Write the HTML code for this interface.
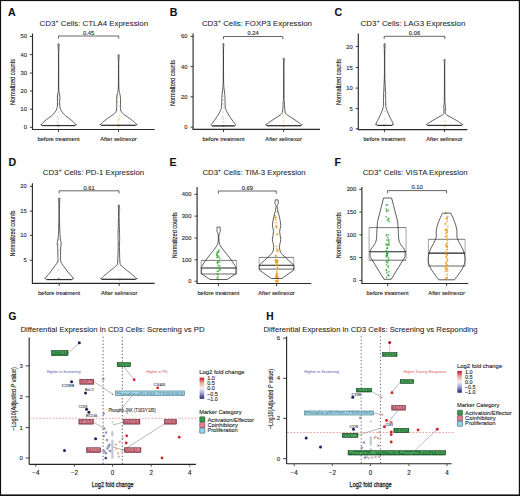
<!DOCTYPE html>
<html><head><meta charset="utf-8"><style>
html,body{margin:0;padding:0;background:#fff;}
#wrap{position:relative;width:520px;height:496px;overflow:hidden;background:#fff;}
svg{position:absolute;left:0;top:0;}
text{font-family:"Liberation Sans", sans-serif;}
</style></head><body><div id="wrap">
<svg width="520" height="496" viewBox="0 0 520 496">
<defs><linearGradient id="cb" x1="0" y1="0" x2="0" y2="1">
<stop offset="0" stop-color="#c8102e"/><stop offset="0.25" stop-color="#e6a898"/><stop offset="0.5" stop-color="#f6f4f4"/><stop offset="0.75" stop-color="#9c9cd0"/><stop offset="1" stop-color="#1f1f6e"/></linearGradient></defs>
<rect x="0" y="0" width="520" height="496" fill="#fff"/>
<text x="8.00" y="15.70" font-size="10.6" text-anchor="start" fill="#111" stroke="#111" stroke-width="0.12" font-weight="bold">A</text>
<text x="39.60" y="25.60" font-size="7.8" fill="#262626" stroke="#262626" stroke-width="0.06" textLength="108.50" lengthAdjust="spacingAndGlyphs">CD3<tspan dy="-3.0" font-size="5.62">+</tspan><tspan dy="3.0"> Cells: CTLA4 Expression</tspan></text>
<line x1="32.50" y1="33.50" x2="32.50" y2="129.80" stroke="#2a2a2a" stroke-width="1.15" />
<line x1="29.90" y1="127.30" x2="32.50" y2="127.30" stroke="#2a2a2a" stroke-width="0.9" />
<text x="26.90" y="129.39" font-size="5.8" text-anchor="end" fill="#2a2a2a" stroke="#2a2a2a" stroke-width="0.12">0</text>
<line x1="29.90" y1="109.20" x2="32.50" y2="109.20" stroke="#2a2a2a" stroke-width="0.9" />
<text x="26.90" y="111.29" font-size="5.8" text-anchor="end" fill="#2a2a2a" stroke="#2a2a2a" stroke-width="0.12">10</text>
<line x1="29.90" y1="91.00" x2="32.50" y2="91.00" stroke="#2a2a2a" stroke-width="0.9" />
<text x="26.90" y="93.09" font-size="5.8" text-anchor="end" fill="#2a2a2a" stroke="#2a2a2a" stroke-width="0.12">20</text>
<line x1="29.90" y1="73.00" x2="32.50" y2="73.00" stroke="#2a2a2a" stroke-width="0.9" />
<text x="26.90" y="75.09" font-size="5.8" text-anchor="end" fill="#2a2a2a" stroke="#2a2a2a" stroke-width="0.12">30</text>
<line x1="29.90" y1="54.60" x2="32.50" y2="54.60" stroke="#2a2a2a" stroke-width="0.9" />
<text x="26.90" y="56.69" font-size="5.8" text-anchor="end" fill="#2a2a2a" stroke="#2a2a2a" stroke-width="0.12">40</text>
<line x1="29.90" y1="36.40" x2="32.50" y2="36.40" stroke="#2a2a2a" stroke-width="0.9" />
<text x="26.90" y="38.49" font-size="5.8" text-anchor="end" fill="#2a2a2a" stroke="#2a2a2a" stroke-width="0.12">50</text>
<line x1="32.00" y1="129.50" x2="154.60" y2="129.50" stroke="#2a2a2a" stroke-width="1.15" />
<line x1="58.50" y1="129.50" x2="58.50" y2="132.10" stroke="#2a2a2a" stroke-width="0.9" />
<line x1="118.50" y1="129.50" x2="118.50" y2="132.10" stroke="#2a2a2a" stroke-width="0.9" />
<text x="15.42" y="82.00" font-size="7.0" fill="#1a1a1a" stroke="#1a1a1a" stroke-width="0.12" text-anchor="middle" textLength="46.00" lengthAdjust="spacingAndGlyphs" transform="rotate(-90 15.42 82.00)">Normalized counts</text>
<path d="M58.50,38.70 L58.50,36.00 L118.70,36.00 L118.70,38.70" fill="none" stroke="#333" stroke-width="0.75"/>
<text x="88.60" y="34.70" font-size="5.8" text-anchor="middle" fill="#2a2a2a" stroke="#2a2a2a" stroke-width="0.12">0.45</text>
<text x="58.50" y="140.80" font-size="6.0" text-anchor="middle" fill="#222" stroke="#222" stroke-width="0.12" textLength="42.00" lengthAdjust="spacingAndGlyphs">before treatment</text>
<text x="118.50" y="140.80" font-size="6.0" text-anchor="middle" fill="#222" stroke="#222" stroke-width="0.12" textLength="36.50" lengthAdjust="spacingAndGlyphs">After selinexor</text>
<circle cx="58.08" cy="125.50" r="0.90" fill="#3bab3b" opacity="0.3"/>
<circle cx="57.66" cy="125.50" r="0.90" fill="#3bab3b" opacity="0.3"/>
<circle cx="58.86" cy="125.50" r="0.90" fill="#3bab3b" opacity="0.3"/>
<circle cx="57.47" cy="125.50" r="0.90" fill="#3bab3b" opacity="0.3"/>
<circle cx="58.59" cy="125.50" r="0.90" fill="#3bab3b" opacity="0.3"/>
<circle cx="58.18" cy="125.50" r="0.90" fill="#3bab3b" opacity="0.3"/>
<circle cx="57.44" cy="117.00" r="0.90" fill="#3bab3b" opacity="0.3"/>
<circle cx="58.52" cy="112.00" r="0.90" fill="#3bab3b" opacity="0.3"/>
<circle cx="57.39" cy="104.00" r="0.90" fill="#3bab3b" opacity="0.3"/>
<circle cx="58.34" cy="99.00" r="0.90" fill="#3bab3b" opacity="0.3"/>
<circle cx="57.47" cy="96.00" r="0.90" fill="#3bab3b" opacity="0.3"/>
<circle cx="57.52" cy="122.00" r="0.90" fill="#3bab3b" opacity="0.3"/>
<circle cx="58.32" cy="119.00" r="0.90" fill="#3bab3b" opacity="0.3"/>
<circle cx="119.28" cy="125.50" r="0.90" fill="#f0a020" opacity="0.35"/>
<circle cx="117.60" cy="125.50" r="0.90" fill="#f0a020" opacity="0.35"/>
<circle cx="117.84" cy="125.50" r="0.90" fill="#f0a020" opacity="0.35"/>
<circle cx="118.81" cy="125.50" r="0.90" fill="#f0a020" opacity="0.35"/>
<circle cx="119.57" cy="125.50" r="0.90" fill="#f0a020" opacity="0.35"/>
<circle cx="118.69" cy="125.50" r="0.90" fill="#f0a020" opacity="0.35"/>
<circle cx="118.25" cy="120.00" r="0.90" fill="#f0a020" opacity="0.35"/>
<circle cx="119.64" cy="116.00" r="0.90" fill="#f0a020" opacity="0.35"/>
<circle cx="117.41" cy="110.00" r="0.90" fill="#f0a020" opacity="0.35"/>
<circle cx="119.36" cy="106.00" r="0.90" fill="#f0a020" opacity="0.35"/>
<circle cx="118.00" cy="102.00" r="0.90" fill="#f0a020" opacity="0.35"/>
<circle cx="117.65" cy="98.00" r="0.90" fill="#f0a020" opacity="0.35"/>
<circle cx="117.58" cy="95.00" r="0.90" fill="#f0a020" opacity="0.35"/>
<circle cx="118.04" cy="122.00" r="0.90" fill="#f0a020" opacity="0.35"/>
<circle cx="119.26" cy="119.00" r="0.90" fill="#f0a020" opacity="0.35"/>
<path d="M59.10,43.80 C59.11,44.00 59.18,44.13 59.15,45.00 C59.12,45.87 58.97,47.17 58.90,49.00 C58.83,50.83 58.74,49.50 58.72,56.00 C58.70,62.50 58.70,81.83 58.80,88.00 C58.90,94.17 59.13,91.50 59.30,93.00 C59.47,94.50 59.72,95.83 59.80,97.00 C59.88,98.17 59.83,98.83 59.80,100.00 C59.77,101.17 59.50,102.53 59.60,104.00 C59.70,105.47 59.93,107.40 60.40,108.80 C60.87,110.20 61.52,111.22 62.40,112.40 C63.28,113.58 64.33,114.72 65.70,115.90 C67.07,117.08 69.20,118.38 70.60,119.50 C72.00,120.62 73.22,121.72 74.10,122.60 C74.98,123.48 75.55,124.50 75.90,124.80 C76.25,125.10 76.23,124.35 76.20,124.43 C76.17,124.51 75.96,125.08 75.75,125.27 C75.53,125.47 75.04,125.55 74.90,125.60 L42.30,125.60 C42.16,125.55 41.67,125.47 41.45,125.27 C41.24,125.08 41.03,124.51 41.00,124.43 C40.97,124.35 40.95,125.10 41.30,124.80 C41.65,124.50 42.22,123.48 43.10,122.60 C43.98,121.72 45.20,120.62 46.60,119.50 C48.00,118.38 50.13,117.08 51.50,115.90 C52.87,114.72 53.92,113.58 54.80,112.40 C55.68,111.22 56.33,110.20 56.80,108.80 C57.27,107.40 57.50,105.47 57.60,104.00 C57.70,102.53 57.43,101.17 57.40,100.00 C57.37,98.83 57.32,98.17 57.40,97.00 C57.48,95.83 57.73,94.50 57.90,93.00 C58.07,91.50 58.30,94.17 58.40,88.00 C58.50,81.83 58.50,62.50 58.48,56.00 C58.46,49.50 58.37,50.83 58.30,49.00 C58.23,47.17 58.08,45.87 58.05,45.00 C58.02,44.13 58.09,44.00 58.10,43.80 Z" fill="none" stroke="#2a2a2a" stroke-width="0.75" stroke-linejoin="round"/>
<line x1="42.30" y1="125.60" x2="74.90" y2="125.60" stroke="#2a2a2a" stroke-width="1.0" />
<path d="M119.10,54.80 C119.11,55.00 119.18,55.13 119.15,56.00 C119.12,56.87 118.97,58.33 118.90,60.00 C118.83,61.67 118.72,61.33 118.72,66.00 C118.72,70.67 118.70,83.33 118.90,88.00 C119.10,92.67 119.63,92.32 119.90,94.00 C120.17,95.68 120.40,96.07 120.50,98.10 C120.60,100.13 120.42,104.05 120.50,106.20 C120.58,108.35 120.48,109.67 121.00,111.00 C121.52,112.33 122.18,112.98 123.60,114.20 C125.02,115.42 127.67,116.95 129.50,118.30 C131.33,119.65 133.42,121.25 134.60,122.30 C135.78,123.35 136.20,124.29 136.60,124.60 C137.00,124.91 137.01,124.07 137.00,124.13 C136.99,124.19 136.76,124.78 136.54,124.97 C136.33,125.17 135.84,125.25 135.70,125.30 L101.50,125.30 C101.36,125.25 100.87,125.17 100.66,124.97 C100.44,124.78 100.21,124.19 100.20,124.13 C100.19,124.07 100.20,124.91 100.60,124.60 C101.00,124.29 101.42,123.35 102.60,122.30 C103.78,121.25 105.87,119.65 107.70,118.30 C109.53,116.95 112.18,115.42 113.60,114.20 C115.02,112.98 115.68,112.33 116.20,111.00 C116.72,109.67 116.62,108.35 116.70,106.20 C116.78,104.05 116.60,100.13 116.70,98.10 C116.80,96.07 117.03,95.68 117.30,94.00 C117.57,92.32 118.10,92.67 118.30,88.00 C118.50,83.33 118.48,70.67 118.48,66.00 C118.48,61.33 118.37,61.67 118.30,60.00 C118.23,58.33 118.08,56.87 118.05,56.00 C118.02,55.13 118.09,55.00 118.10,54.80 Z" fill="none" stroke="#2a2a2a" stroke-width="0.75" stroke-linejoin="round"/>
<line x1="101.50" y1="125.30" x2="135.70" y2="125.30" stroke="#2a2a2a" stroke-width="1.0" />
<text x="169.70" y="16.00" font-size="10.6" text-anchor="start" fill="#111" stroke="#111" stroke-width="0.12" font-weight="bold">B</text>
<text x="201.90" y="25.60" font-size="7.8" fill="#262626" stroke="#262626" stroke-width="0.06" textLength="110.00" lengthAdjust="spacingAndGlyphs">CD3<tspan dy="-3.0" font-size="5.62">+</tspan><tspan dy="3.0"> Cells: FOXP3 Expression</tspan></text>
<line x1="193.10" y1="33.50" x2="193.10" y2="129.80" stroke="#2a2a2a" stroke-width="1.15" />
<line x1="190.50" y1="127.10" x2="193.10" y2="127.10" stroke="#2a2a2a" stroke-width="0.9" />
<text x="187.50" y="129.19" font-size="5.8" text-anchor="end" fill="#2a2a2a" stroke="#2a2a2a" stroke-width="0.12">0</text>
<line x1="190.50" y1="96.80" x2="193.10" y2="96.80" stroke="#2a2a2a" stroke-width="0.9" />
<text x="187.50" y="98.89" font-size="5.8" text-anchor="end" fill="#2a2a2a" stroke="#2a2a2a" stroke-width="0.12">20</text>
<line x1="190.50" y1="66.60" x2="193.10" y2="66.60" stroke="#2a2a2a" stroke-width="0.9" />
<text x="187.50" y="68.69" font-size="5.8" text-anchor="end" fill="#2a2a2a" stroke="#2a2a2a" stroke-width="0.12">40</text>
<line x1="190.50" y1="36.40" x2="193.10" y2="36.40" stroke="#2a2a2a" stroke-width="0.9" />
<text x="187.50" y="38.49" font-size="5.8" text-anchor="end" fill="#2a2a2a" stroke="#2a2a2a" stroke-width="0.12">60</text>
<line x1="192.60" y1="129.40" x2="320.00" y2="129.40" stroke="#2a2a2a" stroke-width="1.15" />
<line x1="223.50" y1="129.40" x2="223.50" y2="132.00" stroke="#2a2a2a" stroke-width="0.9" />
<line x1="283.60" y1="129.40" x2="283.60" y2="132.00" stroke="#2a2a2a" stroke-width="0.9" />
<text x="175.32" y="83.00" font-size="7.0" fill="#1a1a1a" stroke="#1a1a1a" stroke-width="0.12" text-anchor="middle" textLength="46.00" lengthAdjust="spacingAndGlyphs" transform="rotate(-90 175.32 83.00)">Normalized counts</text>
<path d="M223.50,39.20 L223.50,36.50 L282.80,36.50 L282.80,39.20" fill="none" stroke="#333" stroke-width="0.75"/>
<text x="253.15" y="35.20" font-size="5.8" text-anchor="middle" fill="#2a2a2a" stroke="#2a2a2a" stroke-width="0.12">0.24</text>
<text x="223.50" y="140.80" font-size="6.0" text-anchor="middle" fill="#222" stroke="#222" stroke-width="0.12" textLength="42.00" lengthAdjust="spacingAndGlyphs">before treatment</text>
<text x="283.60" y="140.80" font-size="6.0" text-anchor="middle" fill="#222" stroke="#222" stroke-width="0.12" textLength="36.50" lengthAdjust="spacingAndGlyphs">After selinexor</text>
<circle cx="222.83" cy="125.80" r="0.90" fill="#3bab3b" opacity="0.3"/>
<circle cx="223.80" cy="125.80" r="0.90" fill="#3bab3b" opacity="0.3"/>
<circle cx="223.93" cy="125.80" r="0.90" fill="#3bab3b" opacity="0.3"/>
<circle cx="223.29" cy="125.80" r="0.90" fill="#3bab3b" opacity="0.3"/>
<circle cx="223.71" cy="125.80" r="0.90" fill="#3bab3b" opacity="0.3"/>
<circle cx="222.55" cy="125.80" r="0.90" fill="#3bab3b" opacity="0.3"/>
<circle cx="222.54" cy="117.00" r="0.90" fill="#3bab3b" opacity="0.3"/>
<circle cx="222.89" cy="112.00" r="0.90" fill="#3bab3b" opacity="0.3"/>
<circle cx="224.03" cy="108.00" r="0.90" fill="#3bab3b" opacity="0.3"/>
<circle cx="223.43" cy="104.00" r="0.90" fill="#3bab3b" opacity="0.3"/>
<circle cx="223.15" cy="96.00" r="0.90" fill="#3bab3b" opacity="0.3"/>
<circle cx="223.81" cy="122.00" r="0.90" fill="#3bab3b" opacity="0.3"/>
<circle cx="223.49" cy="119.00" r="0.90" fill="#3bab3b" opacity="0.3"/>
<circle cx="223.12" cy="100.00" r="0.90" fill="#3bab3b" opacity="0.3"/>
<circle cx="284.31" cy="125.80" r="0.90" fill="#f0a020" opacity="0.35"/>
<circle cx="284.08" cy="125.80" r="0.90" fill="#f0a020" opacity="0.35"/>
<circle cx="282.99" cy="125.80" r="0.90" fill="#f0a020" opacity="0.35"/>
<circle cx="283.78" cy="125.80" r="0.90" fill="#f0a020" opacity="0.35"/>
<circle cx="283.66" cy="125.80" r="0.90" fill="#f0a020" opacity="0.35"/>
<circle cx="284.50" cy="125.80" r="0.90" fill="#f0a020" opacity="0.35"/>
<circle cx="284.15" cy="121.00" r="0.90" fill="#f0a020" opacity="0.35"/>
<circle cx="283.09" cy="116.00" r="0.90" fill="#f0a020" opacity="0.35"/>
<circle cx="284.75" cy="112.00" r="0.90" fill="#f0a020" opacity="0.35"/>
<circle cx="282.68" cy="123.00" r="0.90" fill="#f0a020" opacity="0.35"/>
<path d="M223.90,43.70 C223.89,43.92 223.91,43.62 223.85,45.00 C223.79,46.38 223.56,46.17 223.52,52.00 C223.48,57.83 223.52,74.00 223.60,80.00 C223.68,86.00 223.83,85.78 224.00,88.00 C224.17,90.22 224.43,91.65 224.60,93.30 C224.77,94.95 224.88,95.58 225.00,97.90 C225.12,100.22 224.98,104.88 225.30,107.20 C225.62,109.52 226.17,110.25 226.90,111.80 C227.63,113.35 228.70,114.95 229.70,116.50 C230.70,118.05 231.95,119.80 232.90,121.10 C233.85,122.40 234.92,123.69 235.40,124.30 C235.88,124.91 235.81,124.52 235.80,124.73 C235.79,124.94 235.56,125.38 235.34,125.58 C235.13,125.77 234.64,125.85 234.50,125.90 L212.30,125.90 C212.16,125.85 211.67,125.77 211.46,125.58 C211.24,125.38 211.01,124.94 211.00,124.73 C210.99,124.52 210.92,124.91 211.40,124.30 C211.88,123.69 212.95,122.40 213.90,121.10 C214.85,119.80 216.10,118.05 217.10,116.50 C218.10,114.95 219.17,113.35 219.90,111.80 C220.63,110.25 221.18,109.52 221.50,107.20 C221.82,104.88 221.68,100.22 221.80,97.90 C221.92,95.58 222.03,94.95 222.20,93.30 C222.37,91.65 222.63,90.22 222.80,88.00 C222.97,85.78 223.12,86.00 223.20,80.00 C223.28,74.00 223.32,57.83 223.28,52.00 C223.24,46.17 223.01,46.38 222.95,45.00 C222.89,43.62 222.91,43.92 222.90,43.70 Z" fill="none" stroke="#2a2a2a" stroke-width="0.75" stroke-linejoin="round"/>
<line x1="212.30" y1="125.90" x2="234.50" y2="125.90" stroke="#2a2a2a" stroke-width="1.0" />
<path d="M284.30,58.30 C284.30,58.58 284.36,59.05 284.30,60.00 C284.24,60.95 284.00,58.17 283.95,64.00 C283.90,69.83 283.93,88.58 284.00,95.00 C284.07,101.42 284.23,99.85 284.40,102.50 C284.57,105.15 284.65,108.93 285.00,110.90 C285.35,112.87 285.40,113.17 286.50,114.30 C287.60,115.43 289.90,116.57 291.60,117.70 C293.30,118.83 295.08,119.97 296.70,121.10 C298.32,122.23 300.42,123.93 301.30,124.50 C302.18,125.07 301.96,124.38 302.00,124.53 C302.04,124.68 301.76,125.18 301.55,125.38 C301.33,125.57 300.84,125.65 300.70,125.70 L266.90,125.70 C266.76,125.65 266.27,125.57 266.06,125.38 C265.84,125.18 265.56,124.68 265.60,124.53 C265.64,124.38 265.42,125.07 266.30,124.50 C267.18,123.93 269.28,122.23 270.90,121.10 C272.52,119.97 274.30,118.83 276.00,117.70 C277.70,116.57 280.00,115.43 281.10,114.30 C282.20,113.17 282.25,112.87 282.60,110.90 C282.95,108.93 283.03,105.15 283.20,102.50 C283.37,99.85 283.53,101.42 283.60,95.00 C283.68,88.58 283.70,69.83 283.65,64.00 C283.60,58.17 283.36,60.95 283.30,60.00 C283.24,59.05 283.30,58.58 283.30,58.30 Z" fill="none" stroke="#2a2a2a" stroke-width="0.75" stroke-linejoin="round"/>
<line x1="266.90" y1="125.70" x2="300.70" y2="125.70" stroke="#2a2a2a" stroke-width="1.0" />
<text x="334.40" y="16.00" font-size="10.6" text-anchor="start" fill="#111" stroke="#111" stroke-width="0.12" font-weight="bold">C</text>
<text x="360.60" y="25.60" font-size="7.8" fill="#262626" stroke="#262626" stroke-width="0.06" textLength="104.70" lengthAdjust="spacingAndGlyphs">CD3<tspan dy="-3.0" font-size="5.62">+</tspan><tspan dy="3.0"> Cells: LAG3 Expression</tspan></text>
<line x1="358.30" y1="33.50" x2="358.30" y2="129.90" stroke="#2a2a2a" stroke-width="1.15" />
<line x1="355.70" y1="128.80" x2="358.30" y2="128.80" stroke="#2a2a2a" stroke-width="0.9" />
<text x="352.70" y="130.89" font-size="5.8" text-anchor="end" fill="#2a2a2a" stroke="#2a2a2a" stroke-width="0.12">0</text>
<line x1="355.70" y1="108.60" x2="358.30" y2="108.60" stroke="#2a2a2a" stroke-width="0.9" />
<text x="352.70" y="110.69" font-size="5.8" text-anchor="end" fill="#2a2a2a" stroke="#2a2a2a" stroke-width="0.12">5</text>
<line x1="355.70" y1="88.10" x2="358.30" y2="88.10" stroke="#2a2a2a" stroke-width="0.9" />
<text x="352.70" y="90.19" font-size="5.8" text-anchor="end" fill="#2a2a2a" stroke="#2a2a2a" stroke-width="0.12">10</text>
<line x1="355.70" y1="67.50" x2="358.30" y2="67.50" stroke="#2a2a2a" stroke-width="0.9" />
<text x="352.70" y="69.59" font-size="5.8" text-anchor="end" fill="#2a2a2a" stroke="#2a2a2a" stroke-width="0.12">15</text>
<line x1="355.70" y1="46.50" x2="358.30" y2="46.50" stroke="#2a2a2a" stroke-width="0.9" />
<text x="352.70" y="48.59" font-size="5.8" text-anchor="end" fill="#2a2a2a" stroke="#2a2a2a" stroke-width="0.12">20</text>
<line x1="357.80" y1="129.60" x2="467.40" y2="129.60" stroke="#2a2a2a" stroke-width="1.15" />
<line x1="384.40" y1="129.60" x2="384.40" y2="132.20" stroke="#2a2a2a" stroke-width="0.9" />
<line x1="444.50" y1="129.60" x2="444.50" y2="132.20" stroke="#2a2a2a" stroke-width="0.9" />
<text x="341.22" y="82.00" font-size="7.0" fill="#1a1a1a" stroke="#1a1a1a" stroke-width="0.12" text-anchor="middle" textLength="46.00" lengthAdjust="spacingAndGlyphs" transform="rotate(-90 341.22 82.00)">Normalized counts</text>
<path d="M384.20,39.00 L384.20,36.30 L444.80,36.30 L444.80,39.00" fill="none" stroke="#333" stroke-width="0.75"/>
<text x="414.50" y="35.00" font-size="5.8" text-anchor="middle" fill="#2a2a2a" stroke="#2a2a2a" stroke-width="0.12">0.06</text>
<text x="384.40" y="140.80" font-size="6.0" text-anchor="middle" fill="#222" stroke="#222" stroke-width="0.12" textLength="42.00" lengthAdjust="spacingAndGlyphs">before treatment</text>
<text x="444.50" y="140.80" font-size="6.0" text-anchor="middle" fill="#222" stroke="#222" stroke-width="0.12" textLength="36.50" lengthAdjust="spacingAndGlyphs">After selinexor</text>
<circle cx="384.20" cy="125.40" r="0.90" fill="#3bab3b" opacity="0.3"/>
<circle cx="385.02" cy="125.40" r="0.90" fill="#3bab3b" opacity="0.3"/>
<circle cx="383.56" cy="125.40" r="0.90" fill="#3bab3b" opacity="0.3"/>
<circle cx="384.37" cy="125.40" r="0.90" fill="#3bab3b" opacity="0.3"/>
<circle cx="383.29" cy="125.40" r="0.90" fill="#3bab3b" opacity="0.3"/>
<circle cx="384.80" cy="125.40" r="0.90" fill="#3bab3b" opacity="0.3"/>
<circle cx="385.03" cy="119.00" r="0.90" fill="#3bab3b" opacity="0.3"/>
<circle cx="384.58" cy="111.00" r="0.90" fill="#3bab3b" opacity="0.3"/>
<circle cx="385.30" cy="104.00" r="0.90" fill="#3bab3b" opacity="0.3"/>
<circle cx="383.95" cy="96.00" r="0.90" fill="#3bab3b" opacity="0.3"/>
<circle cx="384.87" cy="90.00" r="0.90" fill="#3bab3b" opacity="0.3"/>
<circle cx="384.63" cy="82.00" r="0.90" fill="#3bab3b" opacity="0.3"/>
<circle cx="384.59" cy="47.00" r="0.90" fill="#3bab3b" opacity="0.3"/>
<circle cx="384.29" cy="52.00" r="0.90" fill="#3bab3b" opacity="0.3"/>
<circle cx="445.32" cy="125.60" r="0.90" fill="#f0a020" opacity="0.35"/>
<circle cx="445.57" cy="125.60" r="0.90" fill="#f0a020" opacity="0.35"/>
<circle cx="444.44" cy="125.60" r="0.90" fill="#f0a020" opacity="0.35"/>
<circle cx="444.89" cy="125.60" r="0.90" fill="#f0a020" opacity="0.35"/>
<circle cx="443.45" cy="125.60" r="0.90" fill="#f0a020" opacity="0.35"/>
<circle cx="444.98" cy="125.60" r="0.90" fill="#f0a020" opacity="0.35"/>
<circle cx="444.85" cy="104.00" r="0.90" fill="#f0a020" opacity="0.35"/>
<circle cx="445.68" cy="110.00" r="0.90" fill="#f0a020" opacity="0.35"/>
<circle cx="445.27" cy="121.00" r="0.90" fill="#f0a020" opacity="0.35"/>
<path d="M385.10,43.70 C385.10,44.08 385.15,44.62 385.10,46.00 C385.05,47.38 384.85,47.17 384.80,52.00 C384.75,56.83 384.72,68.98 384.80,75.00 C384.88,81.02 385.17,84.75 385.30,88.10 C385.43,91.45 385.52,92.25 385.60,95.10 C385.68,97.95 385.70,103.02 385.80,105.20 C385.90,107.38 385.82,106.85 386.20,108.20 C386.58,109.55 387.40,111.62 388.10,113.30 C388.80,114.98 389.65,116.80 390.40,118.30 C391.15,119.80 392.13,121.20 392.60,122.30 C393.07,123.40 393.10,124.58 393.20,124.90 C393.30,125.22 393.28,124.20 393.20,124.23 C393.12,124.26 392.96,124.88 392.75,125.08 C392.53,125.27 392.04,125.35 391.90,125.40 L377.30,125.40 C377.16,125.35 376.67,125.27 376.46,125.08 C376.24,124.88 376.08,124.26 376.00,124.23 C375.92,124.20 375.90,125.22 376.00,124.90 C376.10,124.58 376.13,123.40 376.60,122.30 C377.07,121.20 378.05,119.80 378.80,118.30 C379.55,116.80 380.40,114.98 381.10,113.30 C381.80,111.62 382.62,109.55 383.00,108.20 C383.38,106.85 383.30,107.38 383.40,105.20 C383.50,103.02 383.52,97.95 383.60,95.10 C383.68,92.25 383.77,91.45 383.90,88.10 C384.03,84.75 384.32,81.02 384.40,75.00 C384.48,68.98 384.45,56.83 384.40,52.00 C384.35,47.17 384.15,47.38 384.10,46.00 C384.05,44.62 384.10,44.08 384.10,43.70 Z" fill="none" stroke="#2a2a2a" stroke-width="0.75" stroke-linejoin="round"/>
<line x1="377.30" y1="125.40" x2="391.90" y2="125.40" stroke="#2a2a2a" stroke-width="1.0" />
<path d="M445.10,59.60 C445.10,59.83 445.16,59.93 445.10,61.00 C445.04,62.07 444.78,59.50 444.75,66.00 C444.72,72.50 444.79,93.33 444.90,100.00 C445.01,106.67 445.33,104.05 445.40,106.00 C445.47,107.95 445.22,110.30 445.30,111.70 C445.38,113.10 445.05,113.52 445.90,114.40 C446.75,115.28 448.62,115.98 450.40,117.00 C452.18,118.02 454.65,119.32 456.60,120.50 C458.55,121.68 461.07,123.48 462.10,124.10 C463.13,124.72 462.76,124.07 462.80,124.23 C462.84,124.39 462.56,124.88 462.35,125.08 C462.13,125.27 461.64,125.35 461.50,125.40 L427.70,125.40 C427.56,125.35 427.07,125.27 426.86,125.08 C426.64,124.88 426.36,124.39 426.40,124.23 C426.44,124.07 426.07,124.72 427.10,124.10 C428.13,123.48 430.65,121.68 432.60,120.50 C434.55,119.32 437.02,118.02 438.80,117.00 C440.58,115.98 442.45,115.28 443.30,114.40 C444.15,113.52 443.82,113.10 443.90,111.70 C443.98,110.30 443.73,107.95 443.80,106.00 C443.87,104.05 444.19,106.67 444.30,100.00 C444.41,93.33 444.48,72.50 444.45,66.00 C444.42,59.50 444.16,62.07 444.10,61.00 C444.04,59.93 444.10,59.83 444.10,59.60 Z" fill="none" stroke="#2a2a2a" stroke-width="0.75" stroke-linejoin="round"/>
<line x1="427.70" y1="125.40" x2="461.50" y2="125.40" stroke="#2a2a2a" stroke-width="1.0" />
<text x="8.50" y="166.00" font-size="10.6" text-anchor="start" fill="#111" stroke="#111" stroke-width="0.12" font-weight="bold">D</text>
<text x="42.80" y="175.00" font-size="7.8" fill="#262626" stroke="#262626" stroke-width="0.06" textLength="101.40" lengthAdjust="spacingAndGlyphs">CD3<tspan dy="-3.0" font-size="5.62">+</tspan><tspan dy="3.0"> Cells: PD-1 Expression</tspan></text>
<line x1="32.40" y1="183.30" x2="32.40" y2="283.80" stroke="#2a2a2a" stroke-width="1.15" />
<line x1="29.80" y1="260.30" x2="32.40" y2="260.30" stroke="#2a2a2a" stroke-width="0.9" />
<text x="26.80" y="262.39" font-size="5.8" text-anchor="end" fill="#2a2a2a" stroke="#2a2a2a" stroke-width="0.12">5</text>
<line x1="29.80" y1="235.30" x2="32.40" y2="235.30" stroke="#2a2a2a" stroke-width="0.9" />
<text x="26.80" y="237.39" font-size="5.8" text-anchor="end" fill="#2a2a2a" stroke="#2a2a2a" stroke-width="0.12">10</text>
<line x1="29.80" y1="211.10" x2="32.40" y2="211.10" stroke="#2a2a2a" stroke-width="0.9" />
<text x="26.80" y="213.19" font-size="5.8" text-anchor="end" fill="#2a2a2a" stroke="#2a2a2a" stroke-width="0.12">15</text>
<line x1="29.80" y1="186.30" x2="32.40" y2="186.30" stroke="#2a2a2a" stroke-width="0.9" />
<text x="26.80" y="188.39" font-size="5.8" text-anchor="end" fill="#2a2a2a" stroke="#2a2a2a" stroke-width="0.12">20</text>
<line x1="31.90" y1="283.30" x2="154.60" y2="283.30" stroke="#2a2a2a" stroke-width="1.15" />
<line x1="59.20" y1="283.30" x2="59.20" y2="285.90" stroke="#2a2a2a" stroke-width="0.9" />
<line x1="119.20" y1="283.30" x2="119.20" y2="285.90" stroke="#2a2a2a" stroke-width="0.9" />
<text x="14.62" y="233.50" font-size="7.0" fill="#1a1a1a" stroke="#1a1a1a" stroke-width="0.12" text-anchor="middle" textLength="46.00" lengthAdjust="spacingAndGlyphs" transform="rotate(-90 14.62 233.50)">Normalized counts</text>
<path d="M59.20,193.50 L59.20,190.80 L119.00,190.80 L119.00,193.50" fill="none" stroke="#333" stroke-width="0.75"/>
<text x="89.10" y="189.50" font-size="5.8" text-anchor="middle" fill="#2a2a2a" stroke="#2a2a2a" stroke-width="0.12">0.61</text>
<text x="59.20" y="294.50" font-size="6.0" text-anchor="middle" fill="#222" stroke="#222" stroke-width="0.12" textLength="42.00" lengthAdjust="spacingAndGlyphs">before treatment</text>
<text x="119.20" y="294.50" font-size="6.0" text-anchor="middle" fill="#222" stroke="#222" stroke-width="0.12" textLength="36.50" lengthAdjust="spacingAndGlyphs">After selinexor</text>
<circle cx="58.68" cy="279.00" r="0.90" fill="#3bab3b" opacity="0.3"/>
<circle cx="58.93" cy="279.00" r="0.90" fill="#3bab3b" opacity="0.3"/>
<circle cx="59.60" cy="279.00" r="0.90" fill="#3bab3b" opacity="0.3"/>
<circle cx="58.05" cy="279.00" r="0.90" fill="#3bab3b" opacity="0.3"/>
<circle cx="59.11" cy="279.00" r="0.90" fill="#3bab3b" opacity="0.3"/>
<circle cx="58.40" cy="279.00" r="0.90" fill="#3bab3b" opacity="0.3"/>
<circle cx="58.28" cy="270.00" r="0.90" fill="#3bab3b" opacity="0.3"/>
<circle cx="58.14" cy="262.00" r="0.90" fill="#3bab3b" opacity="0.3"/>
<circle cx="59.84" cy="250.00" r="0.90" fill="#3bab3b" opacity="0.3"/>
<circle cx="58.31" cy="244.00" r="0.90" fill="#3bab3b" opacity="0.3"/>
<circle cx="58.59" cy="240.00" r="0.90" fill="#3bab3b" opacity="0.3"/>
<circle cx="58.94" cy="225.00" r="0.90" fill="#3bab3b" opacity="0.3"/>
<circle cx="60.09" cy="198.00" r="0.90" fill="#3bab3b" opacity="0.3"/>
<circle cx="118.19" cy="279.50" r="0.90" fill="#f0a020" opacity="0.35"/>
<circle cx="119.08" cy="279.50" r="0.90" fill="#f0a020" opacity="0.35"/>
<circle cx="119.32" cy="279.50" r="0.90" fill="#f0a020" opacity="0.35"/>
<circle cx="120.12" cy="279.50" r="0.90" fill="#f0a020" opacity="0.35"/>
<circle cx="119.97" cy="279.50" r="0.90" fill="#f0a020" opacity="0.35"/>
<circle cx="120.07" cy="279.50" r="0.90" fill="#f0a020" opacity="0.35"/>
<circle cx="118.67" cy="270.00" r="0.90" fill="#f0a020" opacity="0.35"/>
<circle cx="119.00" cy="262.00" r="0.90" fill="#f0a020" opacity="0.35"/>
<circle cx="118.86" cy="250.00" r="0.90" fill="#f0a020" opacity="0.35"/>
<circle cx="120.12" cy="240.00" r="0.90" fill="#f0a020" opacity="0.35"/>
<circle cx="120.30" cy="210.00" r="0.90" fill="#f0a020" opacity="0.35"/>
<path d="M59.80,198.60 C59.78,198.83 59.76,197.55 59.70,200.00 C59.64,202.45 59.43,208.18 59.45,213.30 C59.47,218.42 59.64,226.42 59.80,230.70 C59.96,234.98 60.17,236.98 60.40,239.00 C60.63,241.02 61.15,241.30 61.20,242.80 C61.25,244.30 60.82,245.52 60.70,248.00 C60.58,250.48 60.50,255.45 60.50,257.70 C60.50,259.95 60.28,260.22 60.70,261.50 C61.12,262.78 62.18,264.12 63.05,265.40 C63.92,266.68 64.94,267.92 65.90,269.20 C66.86,270.48 67.83,271.93 68.80,273.10 C69.77,274.27 70.97,275.32 71.70,276.20 C72.43,277.08 72.92,278.10 73.20,278.40 C73.48,278.70 73.47,277.86 73.40,277.98 C73.33,278.11 73.07,278.88 72.77,279.15 C72.47,279.42 71.79,279.53 71.60,279.60 L46.80,279.60 C46.61,279.53 45.93,279.42 45.63,279.15 C45.33,278.88 45.07,278.11 45.00,277.98 C44.93,277.86 44.92,278.70 45.20,278.40 C45.48,278.10 45.97,277.08 46.70,276.20 C47.43,275.32 48.63,274.27 49.60,273.10 C50.57,271.93 51.54,270.48 52.50,269.20 C53.46,267.92 54.48,266.68 55.35,265.40 C56.22,264.12 57.28,262.78 57.70,261.50 C58.12,260.22 57.90,259.95 57.90,257.70 C57.90,255.45 57.82,250.48 57.70,248.00 C57.58,245.52 57.15,244.30 57.20,242.80 C57.25,241.30 57.77,241.02 58.00,239.00 C58.23,236.98 58.44,234.98 58.60,230.70 C58.76,226.42 58.93,218.42 58.95,213.30 C58.97,208.18 58.76,202.45 58.70,200.00 C58.64,197.55 58.62,198.83 58.60,198.60 Z" fill="none" stroke="#2a2a2a" stroke-width="0.75" stroke-linejoin="round"/>
<line x1="46.80" y1="279.60" x2="71.60" y2="279.60" stroke="#2a2a2a" stroke-width="1.0" />
<path d="M119.30,205.00 C119.29,205.33 119.28,205.08 119.25,207.00 C119.22,208.92 119.04,211.60 119.10,216.50 C119.16,221.40 119.55,231.98 119.60,236.40 C119.65,240.82 119.33,238.60 119.40,243.00 C119.47,247.40 119.60,258.95 120.00,262.80 C120.40,266.65 120.50,264.72 121.80,266.10 C123.10,267.48 125.80,269.45 127.80,271.10 C129.80,272.75 132.37,274.75 133.80,276.00 C135.23,277.25 135.87,278.25 136.40,278.60 C136.93,278.96 136.98,278.07 137.00,278.13 C137.02,278.19 136.76,278.78 136.54,278.98 C136.33,279.17 135.84,279.25 135.70,279.30 L101.90,279.30 C101.76,279.25 101.27,279.17 101.05,278.98 C100.84,278.78 100.58,278.19 100.60,278.13 C100.62,278.07 100.67,278.96 101.20,278.60 C101.73,278.25 102.37,277.25 103.80,276.00 C105.23,274.75 107.80,272.75 109.80,271.10 C111.80,269.45 114.50,267.48 115.80,266.10 C117.10,264.72 117.20,266.65 117.60,262.80 C118.00,258.95 118.13,247.40 118.20,243.00 C118.27,238.60 117.95,240.82 118.00,236.40 C118.05,231.98 118.44,221.40 118.50,216.50 C118.56,211.60 118.38,208.92 118.35,207.00 C118.32,205.08 118.31,205.33 118.30,205.00 Z" fill="none" stroke="#2a2a2a" stroke-width="0.75" stroke-linejoin="round"/>
<line x1="101.90" y1="279.30" x2="135.70" y2="279.30" stroke="#2a2a2a" stroke-width="1.0" />
<text x="169.40" y="166.00" font-size="10.6" text-anchor="start" fill="#111" stroke="#111" stroke-width="0.12" font-weight="bold">E</text>
<text x="202.50" y="175.00" font-size="7.8" fill="#262626" stroke="#262626" stroke-width="0.06" textLength="103.20" lengthAdjust="spacingAndGlyphs">CD3<tspan dy="-3.0" font-size="5.62">+</tspan><tspan dy="3.0"> Cells: TIM-3 Expression</tspan></text>
<line x1="197.10" y1="186.90" x2="197.10" y2="283.80" stroke="#2a2a2a" stroke-width="1.15" />
<line x1="194.50" y1="281.30" x2="197.10" y2="281.30" stroke="#2a2a2a" stroke-width="0.9" />
<text x="191.50" y="283.39" font-size="5.8" text-anchor="end" fill="#2a2a2a" stroke="#2a2a2a" stroke-width="0.12">0</text>
<line x1="194.50" y1="259.80" x2="197.10" y2="259.80" stroke="#2a2a2a" stroke-width="0.9" />
<text x="191.50" y="261.89" font-size="5.8" text-anchor="end" fill="#2a2a2a" stroke="#2a2a2a" stroke-width="0.12">100</text>
<line x1="194.50" y1="238.00" x2="197.10" y2="238.00" stroke="#2a2a2a" stroke-width="0.9" />
<text x="191.50" y="240.09" font-size="5.8" text-anchor="end" fill="#2a2a2a" stroke="#2a2a2a" stroke-width="0.12">200</text>
<line x1="194.50" y1="216.10" x2="197.10" y2="216.10" stroke="#2a2a2a" stroke-width="0.9" />
<text x="191.50" y="218.19" font-size="5.8" text-anchor="end" fill="#2a2a2a" stroke="#2a2a2a" stroke-width="0.12">300</text>
<line x1="194.50" y1="194.30" x2="197.10" y2="194.30" stroke="#2a2a2a" stroke-width="0.9" />
<text x="191.50" y="196.39" font-size="5.8" text-anchor="end" fill="#2a2a2a" stroke="#2a2a2a" stroke-width="0.12">400</text>
<line x1="196.60" y1="283.50" x2="311.30" y2="283.50" stroke="#2a2a2a" stroke-width="1.15" />
<line x1="218.40" y1="283.50" x2="218.40" y2="286.10" stroke="#2a2a2a" stroke-width="0.9" />
<line x1="276.50" y1="283.50" x2="276.50" y2="286.10" stroke="#2a2a2a" stroke-width="0.9" />
<text x="176.52" y="235.30" font-size="7.0" fill="#1a1a1a" stroke="#1a1a1a" stroke-width="0.12" text-anchor="middle" textLength="46.00" lengthAdjust="spacingAndGlyphs" transform="rotate(-90 176.52 235.30)">Normalized counts</text>
<path d="M218.40,193.70 L218.40,191.00 L276.30,191.00 L276.30,193.70" fill="none" stroke="#333" stroke-width="0.75"/>
<text x="247.35" y="189.70" font-size="5.8" text-anchor="middle" fill="#2a2a2a" stroke="#2a2a2a" stroke-width="0.12">0.69</text>
<text x="218.40" y="294.50" font-size="6.0" text-anchor="middle" fill="#222" stroke="#222" stroke-width="0.12" textLength="42.00" lengthAdjust="spacingAndGlyphs">before treatment</text>
<text x="276.50" y="294.50" font-size="6.0" text-anchor="middle" fill="#222" stroke="#222" stroke-width="0.12" textLength="36.50" lengthAdjust="spacingAndGlyphs">After selinexor</text>
<line x1="201.20" y1="260.40" x2="201.20" y2="274.00" stroke="#777" stroke-width="0.65" />
<line x1="236.60" y1="260.40" x2="236.60" y2="274.00" stroke="#777" stroke-width="0.65" />
<line x1="201.20" y1="260.40" x2="236.60" y2="260.40" stroke="#444" stroke-width="0.7" />
<line x1="201.20" y1="274.00" x2="236.60" y2="274.00" stroke="#3a3a3a" stroke-width="0.75" />
<line x1="201.20" y1="268.00" x2="236.60" y2="268.00" stroke="#222" stroke-width="1.15" />
<line x1="259.10" y1="257.40" x2="259.10" y2="269.10" stroke="#777" stroke-width="0.65" />
<line x1="293.80" y1="257.40" x2="293.80" y2="269.10" stroke="#777" stroke-width="0.65" />
<line x1="259.10" y1="257.40" x2="293.80" y2="257.40" stroke="#444" stroke-width="0.7" />
<line x1="259.10" y1="269.10" x2="293.80" y2="269.10" stroke="#3a3a3a" stroke-width="0.75" />
<line x1="259.10" y1="265.20" x2="293.80" y2="265.20" stroke="#222" stroke-width="1.15" />
<circle cx="217.16" cy="254.68" r="0.90" fill="#3bab3b" opacity="0.8"/>
<circle cx="217.00" cy="255.46" r="0.90" fill="#3bab3b" opacity="0.8"/>
<circle cx="217.45" cy="257.19" r="0.90" fill="#3bab3b" opacity="0.8"/>
<circle cx="217.30" cy="257.23" r="0.90" fill="#3bab3b" opacity="0.8"/>
<circle cx="218.09" cy="265.03" r="0.90" fill="#3bab3b" opacity="0.8"/>
<circle cx="217.08" cy="268.26" r="0.90" fill="#3bab3b" opacity="0.8"/>
<circle cx="219.62" cy="258.15" r="0.90" fill="#3bab3b" opacity="0.8"/>
<circle cx="218.84" cy="250.13" r="0.90" fill="#3bab3b" opacity="0.8"/>
<circle cx="217.45" cy="262.99" r="0.90" fill="#3bab3b" opacity="0.8"/>
<circle cx="217.76" cy="261.45" r="0.90" fill="#3bab3b" opacity="0.8"/>
<circle cx="218.04" cy="267.56" r="0.90" fill="#3bab3b" opacity="0.8"/>
<circle cx="218.09" cy="279.55" r="0.90" fill="#3bab3b" opacity="0.8"/>
<circle cx="217.37" cy="271.41" r="0.90" fill="#3bab3b" opacity="0.8"/>
<circle cx="219.55" cy="265.98" r="0.90" fill="#3bab3b" opacity="0.8"/>
<circle cx="219.98" cy="269.15" r="0.90" fill="#3bab3b" opacity="0.8"/>
<circle cx="218.40" cy="270.96" r="0.90" fill="#3bab3b" opacity="0.8"/>
<circle cx="218.45" cy="251.67" r="0.90" fill="#3bab3b" opacity="0.8"/>
<circle cx="217.26" cy="277.89" r="0.90" fill="#3bab3b" opacity="0.8"/>
<circle cx="217.31" cy="274.18" r="0.90" fill="#3bab3b" opacity="0.8"/>
<circle cx="218.03" cy="277.11" r="0.90" fill="#3bab3b" opacity="0.8"/>
<circle cx="217.79" cy="274.73" r="0.90" fill="#3bab3b" opacity="0.8"/>
<circle cx="219.49" cy="262.16" r="0.90" fill="#3bab3b" opacity="0.8"/>
<circle cx="217.48" cy="262.37" r="0.90" fill="#3bab3b" opacity="0.8"/>
<circle cx="217.07" cy="253.21" r="0.90" fill="#3bab3b" opacity="0.8"/>
<circle cx="219.85" cy="269.66" r="0.90" fill="#3bab3b" opacity="0.8"/>
<circle cx="218.58" cy="251.93" r="0.90" fill="#3bab3b" opacity="0.8"/>
<circle cx="217.44" cy="252.09" r="0.90" fill="#3bab3b" opacity="0.8"/>
<circle cx="218.63" cy="256.47" r="0.90" fill="#3bab3b" opacity="0.8"/>
<circle cx="217.08" cy="255.03" r="0.90" fill="#3bab3b" opacity="0.8"/>
<circle cx="218.58" cy="260.54" r="0.90" fill="#3bab3b" opacity="0.8"/>
<circle cx="277.56" cy="281.42" r="0.95" fill="#f0a020" opacity="0.9"/>
<circle cx="277.42" cy="278.31" r="0.95" fill="#f0a020" opacity="0.9"/>
<circle cx="276.55" cy="273.80" r="0.95" fill="#f0a020" opacity="0.9"/>
<circle cx="276.97" cy="262.05" r="0.95" fill="#f0a020" opacity="0.9"/>
<circle cx="277.32" cy="264.90" r="0.95" fill="#f0a020" opacity="0.9"/>
<circle cx="275.60" cy="259.51" r="0.95" fill="#f0a020" opacity="0.9"/>
<circle cx="276.99" cy="275.84" r="0.95" fill="#f0a020" opacity="0.9"/>
<circle cx="277.58" cy="269.38" r="0.95" fill="#f0a020" opacity="0.9"/>
<circle cx="277.28" cy="276.03" r="0.95" fill="#f0a020" opacity="0.9"/>
<circle cx="277.20" cy="263.90" r="0.95" fill="#f0a020" opacity="0.9"/>
<circle cx="276.55" cy="261.02" r="0.95" fill="#f0a020" opacity="0.9"/>
<circle cx="275.83" cy="276.91" r="0.95" fill="#f0a020" opacity="0.9"/>
<circle cx="277.29" cy="281.59" r="0.95" fill="#f0a020" opacity="0.9"/>
<circle cx="276.20" cy="278.02" r="0.95" fill="#f0a020" opacity="0.9"/>
<circle cx="277.32" cy="276.76" r="0.95" fill="#f0a020" opacity="0.9"/>
<circle cx="277.73" cy="277.09" r="0.95" fill="#f0a020" opacity="0.9"/>
<circle cx="276.35" cy="274.98" r="0.95" fill="#f0a020" opacity="0.9"/>
<circle cx="276.36" cy="261.12" r="0.95" fill="#f0a020" opacity="0.9"/>
<circle cx="277.67" cy="268.98" r="0.95" fill="#f0a020" opacity="0.9"/>
<circle cx="277.14" cy="264.60" r="0.95" fill="#f0a020" opacity="0.9"/>
<circle cx="275.81" cy="255.78" r="0.95" fill="#f0a020" opacity="0.9"/>
<circle cx="275.70" cy="255.75" r="0.95" fill="#f0a020" opacity="0.9"/>
<circle cx="275.76" cy="262.54" r="0.95" fill="#f0a020" opacity="0.9"/>
<circle cx="277.57" cy="262.00" r="0.95" fill="#f0a020" opacity="0.9"/>
<circle cx="277.34" cy="273.70" r="0.95" fill="#f0a020" opacity="0.9"/>
<circle cx="275.75" cy="280.83" r="0.95" fill="#f0a020" opacity="0.9"/>
<circle cx="277.38" cy="267.08" r="0.95" fill="#f0a020" opacity="0.9"/>
<circle cx="277.75" cy="280.30" r="0.95" fill="#f0a020" opacity="0.9"/>
<circle cx="276.98" cy="281.68" r="0.95" fill="#f0a020" opacity="0.9"/>
<circle cx="276.24" cy="280.79" r="0.95" fill="#f0a020" opacity="0.9"/>
<circle cx="276.72" cy="264.85" r="0.95" fill="#f0a020" opacity="0.9"/>
<circle cx="275.71" cy="260.95" r="0.95" fill="#f0a020" opacity="0.9"/>
<circle cx="275.43" cy="261.12" r="0.95" fill="#f0a020" opacity="0.9"/>
<circle cx="277.73" cy="260.31" r="0.95" fill="#f0a020" opacity="0.9"/>
<circle cx="276.96" cy="260.52" r="0.95" fill="#f0a020" opacity="0.9"/>
<circle cx="276.66" cy="271.85" r="0.95" fill="#f0a020" opacity="0.9"/>
<circle cx="277.94" cy="251.68" r="0.90" fill="#f0a020" opacity="0.8"/>
<circle cx="276.61" cy="226.69" r="0.90" fill="#f0a020" opacity="0.8"/>
<circle cx="276.70" cy="248.59" r="0.90" fill="#f0a020" opacity="0.8"/>
<circle cx="276.68" cy="246.31" r="0.90" fill="#f0a020" opacity="0.8"/>
<circle cx="275.06" cy="215.55" r="0.90" fill="#f0a020" opacity="0.8"/>
<circle cx="276.41" cy="217.59" r="0.90" fill="#f0a020" opacity="0.8"/>
<circle cx="275.59" cy="219.65" r="0.90" fill="#f0a020" opacity="0.8"/>
<circle cx="275.01" cy="217.03" r="0.90" fill="#f0a020" opacity="0.8"/>
<circle cx="277.56" cy="234.32" r="0.90" fill="#f0a020" opacity="0.8"/>
<circle cx="275.55" cy="217.97" r="0.90" fill="#f0a020" opacity="0.8"/>
<circle cx="276.52" cy="225.95" r="0.90" fill="#f0a020" opacity="0.8"/>
<circle cx="277.32" cy="211.55" r="0.90" fill="#f0a020" opacity="0.8"/>
<circle cx="276.78" cy="250.50" r="0.90" fill="#f0a020" opacity="0.8"/>
<circle cx="276.04" cy="222.69" r="0.90" fill="#f0a020" opacity="0.8"/>
<circle cx="276.66" cy="227.91" r="0.90" fill="#f0a020" opacity="0.8"/>
<circle cx="276.78" cy="234.17" r="0.90" fill="#f0a020" opacity="0.8"/>
<circle cx="277.51" cy="250.21" r="0.90" fill="#f0a020" opacity="0.8"/>
<circle cx="275.34" cy="226.03" r="0.90" fill="#f0a020" opacity="0.8"/>
<path d="M220.10,227.10 C220.12,227.18 220.18,226.87 220.20,227.60 C220.22,228.33 220.33,230.57 220.20,231.50 C220.07,232.43 219.62,232.45 219.40,233.20 C219.18,233.95 218.98,234.87 218.90,236.00 C218.82,237.13 218.77,238.58 218.90,240.00 C219.03,241.42 219.07,242.98 219.70,244.50 C220.33,246.02 221.60,247.58 222.70,249.10 C223.80,250.62 225.10,252.10 226.30,253.60 C227.50,255.10 228.77,256.58 229.90,258.10 C231.03,259.62 232.10,261.18 233.10,262.70 C234.10,264.22 235.43,266.45 235.90,267.20 L235.90,267.20 L235.90,273.60 L235.90,273.60 L227.20,279.50 L210.00,279.50 L201.30,273.60 L201.30,273.60 L201.30,267.20 L201.30,267.20 C201.77,266.45 203.10,264.22 204.10,262.70 C205.10,261.18 206.17,259.62 207.30,258.10 C208.43,256.58 209.70,255.10 210.90,253.60 C212.10,252.10 213.40,250.62 214.50,249.10 C215.60,247.58 216.87,246.02 217.50,244.50 C218.13,242.98 218.17,241.42 218.30,240.00 C218.43,238.58 218.38,237.13 218.30,236.00 C218.22,234.87 218.02,233.95 217.80,233.20 C217.58,232.45 217.13,232.43 217.00,231.50 C216.87,230.57 216.98,228.33 217.00,227.60 C217.02,226.87 217.08,227.18 217.10,227.10 Z" fill="none" stroke="#2a2a2a" stroke-width="0.75" stroke-linejoin="round"/>
<path d="M278.10,199.90 C278.12,199.98 278.18,199.80 278.20,200.40 C278.22,201.00 278.33,202.70 278.20,203.50 C278.07,204.30 277.58,204.62 277.40,205.20 C277.22,205.78 276.98,205.87 277.10,207.00 C277.22,208.13 277.68,210.22 278.10,212.00 C278.52,213.78 279.15,215.43 279.60,217.70 C280.05,219.97 280.80,223.30 280.80,225.60 C280.80,227.90 279.60,229.20 279.60,231.50 C279.60,233.80 280.80,237.08 280.80,239.40 C280.80,241.72 279.77,243.63 279.60,245.40 C279.43,247.17 279.47,248.60 279.80,250.00 C280.13,251.40 281.30,253.17 281.60,253.80 L281.60,253.80 L293.90,265.20 L293.90,265.20 L293.90,270.00 L293.90,270.00 L281.90,278.50 L271.30,278.50 L259.30,270.00 L259.30,270.00 L259.30,265.20 L259.30,265.20 L271.60,253.80 L271.60,253.80 C271.90,253.17 273.07,251.40 273.40,250.00 C273.73,248.60 273.77,247.17 273.60,245.40 C273.43,243.63 272.40,241.72 272.40,239.40 C272.40,237.08 273.60,233.80 273.60,231.50 C273.60,229.20 272.40,227.90 272.40,225.60 C272.40,223.30 273.15,219.97 273.60,217.70 C274.05,215.43 274.68,213.78 275.10,212.00 C275.52,210.22 275.98,208.13 276.10,207.00 C276.22,205.87 275.98,205.78 275.80,205.20 C275.62,204.62 275.13,204.30 275.00,203.50 C274.87,202.70 274.98,201.00 275.00,200.40 C275.02,199.80 275.08,199.98 275.10,199.90 Z" fill="none" stroke="#2a2a2a" stroke-width="0.75" stroke-linejoin="round"/>
<text x="334.40" y="166.00" font-size="10.6" text-anchor="start" fill="#111" stroke="#111" stroke-width="0.12" font-weight="bold">F</text>
<text x="362.70" y="175.00" font-size="7.8" fill="#262626" stroke="#262626" stroke-width="0.06" textLength="105.00" lengthAdjust="spacingAndGlyphs">CD3<tspan dy="-3.0" font-size="5.62">+</tspan><tspan dy="3.0"> Cells: VISTA Expression</tspan></text>
<line x1="361.90" y1="186.90" x2="361.90" y2="283.80" stroke="#2a2a2a" stroke-width="1.15" />
<line x1="359.30" y1="280.40" x2="361.90" y2="280.40" stroke="#2a2a2a" stroke-width="0.9" />
<text x="356.30" y="282.49" font-size="5.8" text-anchor="end" fill="#2a2a2a" stroke="#2a2a2a" stroke-width="0.12">0</text>
<line x1="359.30" y1="257.50" x2="361.90" y2="257.50" stroke="#2a2a2a" stroke-width="0.9" />
<text x="356.30" y="259.59" font-size="5.8" text-anchor="end" fill="#2a2a2a" stroke="#2a2a2a" stroke-width="0.12">50</text>
<line x1="359.30" y1="234.90" x2="361.90" y2="234.90" stroke="#2a2a2a" stroke-width="0.9" />
<text x="356.30" y="236.99" font-size="5.8" text-anchor="end" fill="#2a2a2a" stroke="#2a2a2a" stroke-width="0.12">100</text>
<line x1="359.30" y1="212.10" x2="361.90" y2="212.10" stroke="#2a2a2a" stroke-width="0.9" />
<text x="356.30" y="214.19" font-size="5.8" text-anchor="end" fill="#2a2a2a" stroke="#2a2a2a" stroke-width="0.12">150</text>
<line x1="359.30" y1="189.30" x2="361.90" y2="189.30" stroke="#2a2a2a" stroke-width="0.9" />
<text x="356.30" y="191.39" font-size="5.8" text-anchor="end" fill="#2a2a2a" stroke="#2a2a2a" stroke-width="0.12">200</text>
<line x1="361.40" y1="283.50" x2="468.30" y2="283.50" stroke="#2a2a2a" stroke-width="1.15" />
<line x1="387.60" y1="283.50" x2="387.60" y2="286.10" stroke="#2a2a2a" stroke-width="0.9" />
<line x1="446.60" y1="283.50" x2="446.60" y2="286.10" stroke="#2a2a2a" stroke-width="0.9" />
<text x="340.52" y="235.30" font-size="7.0" fill="#1a1a1a" stroke="#1a1a1a" stroke-width="0.12" text-anchor="middle" textLength="46.00" lengthAdjust="spacingAndGlyphs" transform="rotate(-90 340.52 235.30)">Normalized counts</text>
<path d="M387.60,193.30 L387.60,190.60 L446.60,190.60 L446.60,193.30" fill="none" stroke="#333" stroke-width="0.75"/>
<text x="417.10" y="189.30" font-size="5.8" text-anchor="middle" fill="#2a2a2a" stroke="#2a2a2a" stroke-width="0.12">0.10</text>
<text x="387.60" y="294.50" font-size="6.0" text-anchor="middle" fill="#222" stroke="#222" stroke-width="0.12" textLength="42.00" lengthAdjust="spacingAndGlyphs">before treatment</text>
<text x="446.60" y="294.50" font-size="6.0" text-anchor="middle" fill="#222" stroke="#222" stroke-width="0.12" textLength="36.50" lengthAdjust="spacingAndGlyphs">After selinexor</text>
<line x1="369.10" y1="227.60" x2="369.10" y2="260.20" stroke="#777" stroke-width="0.65" />
<line x1="406.10" y1="227.60" x2="406.10" y2="260.20" stroke="#777" stroke-width="0.65" />
<line x1="369.10" y1="227.60" x2="406.10" y2="227.60" stroke="#444" stroke-width="0.7" />
<line x1="369.10" y1="260.20" x2="406.10" y2="260.20" stroke="#3a3a3a" stroke-width="0.75" />
<line x1="369.10" y1="251.70" x2="406.10" y2="251.70" stroke="#222" stroke-width="1.15" />
<line x1="428.40" y1="239.30" x2="428.40" y2="266.00" stroke="#777" stroke-width="0.65" />
<line x1="465.10" y1="239.30" x2="465.10" y2="266.00" stroke="#777" stroke-width="0.65" />
<line x1="428.40" y1="239.30" x2="465.10" y2="239.30" stroke="#444" stroke-width="0.7" />
<line x1="428.40" y1="266.00" x2="465.10" y2="266.00" stroke="#3a3a3a" stroke-width="0.75" />
<line x1="428.40" y1="253.10" x2="465.10" y2="253.10" stroke="#222" stroke-width="1.15" />
<circle cx="389.06" cy="244.38" r="0.90" fill="#3bab3b" opacity="0.75"/>
<circle cx="388.47" cy="219.13" r="0.90" fill="#3bab3b" opacity="0.75"/>
<circle cx="389.02" cy="221.43" r="0.90" fill="#3bab3b" opacity="0.75"/>
<circle cx="386.41" cy="261.55" r="0.90" fill="#3bab3b" opacity="0.75"/>
<circle cx="386.90" cy="240.12" r="0.90" fill="#3bab3b" opacity="0.75"/>
<circle cx="386.22" cy="244.50" r="0.90" fill="#3bab3b" opacity="0.75"/>
<circle cx="388.44" cy="260.56" r="0.90" fill="#3bab3b" opacity="0.75"/>
<circle cx="386.91" cy="272.91" r="0.90" fill="#3bab3b" opacity="0.75"/>
<circle cx="386.49" cy="234.90" r="0.90" fill="#3bab3b" opacity="0.75"/>
<circle cx="387.37" cy="248.61" r="0.90" fill="#3bab3b" opacity="0.75"/>
<circle cx="388.83" cy="239.95" r="0.90" fill="#3bab3b" opacity="0.75"/>
<circle cx="388.56" cy="240.49" r="0.90" fill="#3bab3b" opacity="0.75"/>
<circle cx="386.88" cy="255.11" r="0.90" fill="#3bab3b" opacity="0.75"/>
<circle cx="386.55" cy="235.64" r="0.90" fill="#3bab3b" opacity="0.75"/>
<circle cx="388.86" cy="242.20" r="0.90" fill="#3bab3b" opacity="0.75"/>
<circle cx="387.81" cy="237.72" r="0.90" fill="#3bab3b" opacity="0.75"/>
<circle cx="388.20" cy="275.26" r="0.90" fill="#3bab3b" opacity="0.75"/>
<circle cx="386.37" cy="255.64" r="0.90" fill="#3bab3b" opacity="0.75"/>
<circle cx="386.27" cy="270.00" r="0.90" fill="#3bab3b" opacity="0.75"/>
<circle cx="388.16" cy="275.32" r="0.90" fill="#3bab3b" opacity="0.75"/>
<circle cx="387.38" cy="220.03" r="0.90" fill="#3bab3b" opacity="0.75"/>
<circle cx="386.32" cy="244.32" r="0.90" fill="#3bab3b" opacity="0.75"/>
<circle cx="388.92" cy="275.40" r="0.90" fill="#3bab3b" opacity="0.75"/>
<circle cx="388.00" cy="267.04" r="0.90" fill="#3bab3b" opacity="0.75"/>
<circle cx="388.50" cy="210.11" r="0.90" fill="#3bab3b" opacity="0.75"/>
<circle cx="386.35" cy="208.85" r="0.90" fill="#3bab3b" opacity="0.75"/>
<circle cx="388.67" cy="234.81" r="0.90" fill="#3bab3b" opacity="0.75"/>
<circle cx="386.30" cy="204.88" r="0.90" fill="#3bab3b" opacity="0.75"/>
<circle cx="388.69" cy="218.49" r="0.90" fill="#3bab3b" opacity="0.75"/>
<circle cx="387.46" cy="204.92" r="0.90" fill="#3bab3b" opacity="0.75"/>
<circle cx="387.12" cy="253.23" r="0.90" fill="#3bab3b" opacity="0.75"/>
<circle cx="387.76" cy="262.50" r="0.90" fill="#3bab3b" opacity="0.75"/>
<circle cx="388.88" cy="271.66" r="0.90" fill="#3bab3b" opacity="0.75"/>
<circle cx="386.90" cy="211.51" r="0.90" fill="#3bab3b" opacity="0.75"/>
<circle cx="386.49" cy="257.01" r="0.90" fill="#3bab3b" opacity="0.75"/>
<circle cx="387.68" cy="252.48" r="0.90" fill="#3bab3b" opacity="0.75"/>
<circle cx="386.82" cy="210.58" r="0.90" fill="#3bab3b" opacity="0.75"/>
<circle cx="386.43" cy="270.51" r="0.90" fill="#3bab3b" opacity="0.75"/>
<circle cx="386.58" cy="277.37" r="0.90" fill="#3bab3b" opacity="0.75"/>
<circle cx="386.25" cy="216.79" r="0.90" fill="#3bab3b" opacity="0.75"/>
<circle cx="386.71" cy="264.96" r="0.90" fill="#3bab3b" opacity="0.75"/>
<circle cx="387.04" cy="252.76" r="0.90" fill="#3bab3b" opacity="0.75"/>
<circle cx="387.02" cy="254.72" r="0.90" fill="#3bab3b" opacity="0.75"/>
<circle cx="388.38" cy="265.78" r="0.90" fill="#3bab3b" opacity="0.75"/>
<circle cx="386.97" cy="262.31" r="0.90" fill="#3bab3b" opacity="0.75"/>
<circle cx="387.60" cy="247.55" r="0.90" fill="#3bab3b" opacity="0.75"/>
<circle cx="386.63" cy="253.49" r="0.90" fill="#3bab3b" opacity="0.75"/>
<circle cx="387.14" cy="255.34" r="0.90" fill="#3bab3b" opacity="0.75"/>
<circle cx="386.15" cy="251.46" r="0.90" fill="#3bab3b" opacity="0.75"/>
<circle cx="386.85" cy="248.31" r="0.90" fill="#3bab3b" opacity="0.75"/>
<circle cx="386.15" cy="251.01" r="0.90" fill="#3bab3b" opacity="0.75"/>
<circle cx="388.30" cy="259.89" r="0.90" fill="#3bab3b" opacity="0.75"/>
<circle cx="387.75" cy="244.43" r="0.90" fill="#3bab3b" opacity="0.75"/>
<circle cx="386.67" cy="256.19" r="0.90" fill="#3bab3b" opacity="0.75"/>
<circle cx="387.52" cy="253.69" r="0.90" fill="#3bab3b" opacity="0.75"/>
<circle cx="388.90" cy="244.40" r="0.90" fill="#3bab3b" opacity="0.75"/>
<circle cx="386.42" cy="251.29" r="0.90" fill="#3bab3b" opacity="0.75"/>
<circle cx="388.56" cy="257.73" r="0.90" fill="#3bab3b" opacity="0.75"/>
<circle cx="387.40" cy="255.27" r="0.90" fill="#3bab3b" opacity="0.75"/>
<circle cx="387.59" cy="245.41" r="0.90" fill="#3bab3b" opacity="0.75"/>
<circle cx="447.70" cy="268.92" r="0.90" fill="#f0a020" opacity="0.8"/>
<circle cx="446.96" cy="239.34" r="0.90" fill="#f0a020" opacity="0.8"/>
<circle cx="447.25" cy="246.95" r="0.90" fill="#f0a020" opacity="0.8"/>
<circle cx="447.47" cy="259.08" r="0.90" fill="#f0a020" opacity="0.8"/>
<circle cx="445.59" cy="278.82" r="0.90" fill="#f0a020" opacity="0.8"/>
<circle cx="446.67" cy="235.96" r="0.90" fill="#f0a020" opacity="0.8"/>
<circle cx="446.61" cy="268.76" r="0.90" fill="#f0a020" opacity="0.8"/>
<circle cx="447.54" cy="260.35" r="0.90" fill="#f0a020" opacity="0.8"/>
<circle cx="447.45" cy="255.61" r="0.90" fill="#f0a020" opacity="0.8"/>
<circle cx="447.51" cy="240.11" r="0.90" fill="#f0a020" opacity="0.8"/>
<circle cx="446.84" cy="236.29" r="0.90" fill="#f0a020" opacity="0.8"/>
<circle cx="447.70" cy="216.64" r="0.90" fill="#f0a020" opacity="0.8"/>
<circle cx="447.11" cy="221.70" r="0.90" fill="#f0a020" opacity="0.8"/>
<circle cx="447.14" cy="217.74" r="0.90" fill="#f0a020" opacity="0.8"/>
<circle cx="445.84" cy="262.64" r="0.90" fill="#f0a020" opacity="0.8"/>
<circle cx="445.29" cy="230.12" r="0.90" fill="#f0a020" opacity="0.8"/>
<circle cx="445.57" cy="223.94" r="0.90" fill="#f0a020" opacity="0.8"/>
<circle cx="446.21" cy="218.66" r="0.90" fill="#f0a020" opacity="0.8"/>
<circle cx="445.49" cy="269.37" r="0.90" fill="#f0a020" opacity="0.8"/>
<circle cx="447.54" cy="271.33" r="0.90" fill="#f0a020" opacity="0.8"/>
<circle cx="446.76" cy="257.93" r="0.90" fill="#f0a020" opacity="0.8"/>
<circle cx="446.96" cy="231.89" r="0.90" fill="#f0a020" opacity="0.8"/>
<circle cx="446.95" cy="229.23" r="0.90" fill="#f0a020" opacity="0.8"/>
<circle cx="447.11" cy="232.63" r="0.90" fill="#f0a020" opacity="0.8"/>
<circle cx="446.57" cy="243.78" r="0.90" fill="#f0a020" opacity="0.8"/>
<circle cx="445.21" cy="223.55" r="0.90" fill="#f0a020" opacity="0.8"/>
<circle cx="447.43" cy="242.87" r="0.90" fill="#f0a020" opacity="0.8"/>
<circle cx="447.30" cy="230.64" r="0.90" fill="#f0a020" opacity="0.8"/>
<circle cx="446.61" cy="277.44" r="0.90" fill="#f0a020" opacity="0.8"/>
<circle cx="446.70" cy="278.17" r="0.90" fill="#f0a020" opacity="0.8"/>
<circle cx="447.05" cy="249.65" r="0.90" fill="#f0a020" opacity="0.8"/>
<circle cx="445.38" cy="229.38" r="0.90" fill="#f0a020" opacity="0.8"/>
<circle cx="447.26" cy="277.70" r="0.90" fill="#f0a020" opacity="0.8"/>
<circle cx="445.91" cy="233.74" r="0.90" fill="#f0a020" opacity="0.8"/>
<circle cx="445.41" cy="236.89" r="0.90" fill="#f0a020" opacity="0.8"/>
<circle cx="445.94" cy="213.07" r="0.90" fill="#f0a020" opacity="0.8"/>
<circle cx="447.24" cy="238.57" r="0.90" fill="#f0a020" opacity="0.8"/>
<circle cx="445.77" cy="244.80" r="0.90" fill="#f0a020" opacity="0.8"/>
<circle cx="447.27" cy="246.69" r="0.90" fill="#f0a020" opacity="0.8"/>
<circle cx="447.93" cy="226.47" r="0.90" fill="#f0a020" opacity="0.8"/>
<circle cx="446.58" cy="246.82" r="0.90" fill="#f0a020" opacity="0.8"/>
<circle cx="446.27" cy="213.33" r="0.90" fill="#f0a020" opacity="0.8"/>
<circle cx="446.54" cy="230.70" r="0.90" fill="#f0a020" opacity="0.8"/>
<circle cx="447.11" cy="219.01" r="0.90" fill="#f0a020" opacity="0.8"/>
<circle cx="447.35" cy="239.77" r="0.90" fill="#f0a020" opacity="0.8"/>
<circle cx="446.93" cy="246.25" r="0.90" fill="#f0a020" opacity="0.8"/>
<circle cx="447.00" cy="245.67" r="0.90" fill="#f0a020" opacity="0.8"/>
<circle cx="445.42" cy="254.13" r="0.90" fill="#f0a020" opacity="0.8"/>
<circle cx="445.61" cy="251.98" r="0.90" fill="#f0a020" opacity="0.8"/>
<circle cx="445.91" cy="262.57" r="0.90" fill="#f0a020" opacity="0.8"/>
<circle cx="447.28" cy="260.88" r="0.90" fill="#f0a020" opacity="0.8"/>
<circle cx="446.05" cy="267.52" r="0.90" fill="#f0a020" opacity="0.8"/>
<circle cx="446.79" cy="264.73" r="0.90" fill="#f0a020" opacity="0.8"/>
<circle cx="445.23" cy="266.48" r="0.90" fill="#f0a020" opacity="0.8"/>
<circle cx="445.37" cy="271.37" r="0.90" fill="#f0a020" opacity="0.8"/>
<circle cx="445.95" cy="256.69" r="0.90" fill="#f0a020" opacity="0.8"/>
<circle cx="447.08" cy="254.78" r="0.90" fill="#f0a020" opacity="0.8"/>
<circle cx="447.14" cy="274.54" r="0.90" fill="#f0a020" opacity="0.8"/>
<circle cx="447.09" cy="249.48" r="0.90" fill="#f0a020" opacity="0.8"/>
<circle cx="446.01" cy="266.72" r="0.90" fill="#f0a020" opacity="0.8"/>
<circle cx="446.65" cy="264.30" r="0.90" fill="#f0a020" opacity="0.8"/>
<circle cx="446.50" cy="246.31" r="0.90" fill="#f0a020" opacity="0.8"/>
<circle cx="446.51" cy="270.06" r="0.90" fill="#f0a020" opacity="0.8"/>
<path d="M387.60,198.00 L391.60,198.00 L391.60,198.00 L397.60,221.20 L397.60,221.20 C397.72,222.72 398.10,227.27 398.30,230.30 C398.50,233.33 398.37,236.98 398.80,239.40 C399.23,241.82 399.90,242.98 400.90,244.80 C401.90,246.62 404.10,248.33 404.80,250.30 C405.50,252.27 405.05,255.55 405.10,256.60 L405.10,256.60 L391.20,279.30 L391.20,279.30 L387.60,279.30 L387.60,279.30 L384.00,279.30 L384.00,279.30 L370.10,256.60 L370.10,256.60 C370.15,255.55 369.70,252.27 370.40,250.30 C371.10,248.33 373.30,246.62 374.30,244.80 C375.30,242.98 375.97,241.82 376.40,239.40 C376.83,236.98 376.70,233.33 376.90,230.30 C377.10,227.27 377.48,222.72 377.60,221.20 L377.60,221.20 L383.60,198.00 L383.60,198.00 L387.60,198.00 Z" fill="none" stroke="#2a2a2a" stroke-width="0.75" stroke-linejoin="round"/>
<path d="M446.60,213.10 L450.70,213.10 L450.70,213.10 C451.13,214.02 452.48,216.65 453.30,218.60 C454.12,220.55 454.98,222.72 455.60,224.80 C456.22,226.88 456.77,229.00 457.00,231.10 C457.23,233.20 456.53,235.30 457.00,237.40 C457.47,239.50 458.78,241.60 459.80,243.70 C460.82,245.80 462.27,247.92 463.10,250.00 C463.93,252.08 464.52,254.12 464.80,256.20 C465.08,258.28 465.22,260.40 464.80,262.50 C464.38,264.60 463.43,266.70 462.30,268.80 C461.17,270.90 459.32,273.27 458.00,275.10 C456.68,276.93 455.00,279.02 454.40,279.80 L454.40,279.80 L446.60,279.80 L446.60,279.80 L438.80,279.80 L438.80,279.80 C438.20,279.02 436.52,276.93 435.20,275.10 C433.88,273.27 432.03,270.90 430.90,268.80 C429.77,266.70 428.82,264.60 428.40,262.50 C427.98,260.40 428.12,258.28 428.40,256.20 C428.68,254.12 429.27,252.08 430.10,250.00 C430.93,247.92 432.38,245.80 433.40,243.70 C434.42,241.60 435.73,239.50 436.20,237.40 C436.67,235.30 435.97,233.20 436.20,231.10 C436.43,229.00 436.98,226.88 437.60,224.80 C438.22,222.72 439.08,220.55 439.90,218.60 C440.72,216.65 442.07,214.02 442.50,213.10 L442.50,213.10 L446.60,213.10 Z" fill="none" stroke="#2a2a2a" stroke-width="0.75" stroke-linejoin="round"/>
<text x="8.40" y="319.60" font-size="10.2" text-anchor="start" fill="#111" stroke="#111" stroke-width="0.12" font-weight="bold">G</text>
<text x="20.50" y="332.10" font-size="7.7" fill="#222" stroke="#222" stroke-width="0.06" textLength="184.00" lengthAdjust="spacingAndGlyphs">Differential Expression in CD3 Cells: Screening vs PD</text>
<line x1="29.20" y1="337.50" x2="29.20" y2="464.50" stroke="#2a2a2a" stroke-width="1.15" />
<line x1="25.80" y1="458.00" x2="29.20" y2="458.00" stroke="#2a2a2a" stroke-width="0.9" />
<text x="22.80" y="460.16" font-size="6.0" text-anchor="end" fill="#2a2a2a" stroke="#2a2a2a" stroke-width="0.12">0</text>
<line x1="25.80" y1="427.60" x2="29.20" y2="427.60" stroke="#2a2a2a" stroke-width="0.9" />
<text x="22.80" y="429.76" font-size="6.0" text-anchor="end" fill="#2a2a2a" stroke="#2a2a2a" stroke-width="0.12">1</text>
<line x1="25.80" y1="396.80" x2="29.20" y2="396.80" stroke="#2a2a2a" stroke-width="0.9" />
<text x="22.80" y="398.96" font-size="6.0" text-anchor="end" fill="#2a2a2a" stroke="#2a2a2a" stroke-width="0.12">2</text>
<line x1="25.80" y1="365.90" x2="29.20" y2="365.90" stroke="#2a2a2a" stroke-width="0.9" />
<text x="22.80" y="368.06" font-size="6.0" text-anchor="end" fill="#2a2a2a" stroke="#2a2a2a" stroke-width="0.12">3</text>
<line x1="29.20" y1="464.40" x2="195.90" y2="464.40" stroke="#222" stroke-width="1.1" />
<line x1="35.80" y1="464.40" x2="35.80" y2="466.80" stroke="#333" stroke-width="0.8" />
<text x="35.80" y="475.40" font-size="6.3" text-anchor="middle" fill="#222" stroke="#222" stroke-width="0.12">−4</text>
<line x1="74.50" y1="464.40" x2="74.50" y2="466.80" stroke="#333" stroke-width="0.8" />
<text x="74.50" y="475.40" font-size="6.3" text-anchor="middle" fill="#222" stroke="#222" stroke-width="0.12">−2</text>
<line x1="112.60" y1="464.40" x2="112.60" y2="466.80" stroke="#333" stroke-width="0.8" />
<text x="112.60" y="475.40" font-size="6.3" text-anchor="middle" fill="#222" stroke="#222" stroke-width="0.12">0</text>
<line x1="151.20" y1="464.40" x2="151.20" y2="466.80" stroke="#333" stroke-width="0.8" />
<text x="151.20" y="475.40" font-size="6.3" text-anchor="middle" fill="#222" stroke="#222" stroke-width="0.12">2</text>
<line x1="189.80" y1="464.40" x2="189.80" y2="466.80" stroke="#333" stroke-width="0.8" />
<text x="189.80" y="475.40" font-size="6.3" text-anchor="middle" fill="#222" stroke="#222" stroke-width="0.12">4</text>
<text x="112.70" y="486.50" font-size="7.4" text-anchor="middle" fill="#222" stroke="#222" stroke-width="0.28" textLength="41.80" lengthAdjust="spacingAndGlyphs">Log2 fold change</text>
<text x="15.72" y="399.00" font-size="7.0" fill="#1a1a1a" stroke="#1a1a1a" stroke-width="0.12" text-anchor="middle" textLength="63.60" lengthAdjust="spacingAndGlyphs" transform="rotate(-90 15.72 399.00)">−Log10(Adjusted <tspan font-style="italic">P</tspan> value)</text>
<line x1="103.10" y1="336.80" x2="103.10" y2="464.00" stroke="#444450" stroke-width="0.9" stroke-dasharray="1.3,2.1"/>
<line x1="122.30" y1="336.80" x2="122.30" y2="464.00" stroke="#444450" stroke-width="0.9" stroke-dasharray="1.3,2.1"/>
<line x1="29.50" y1="418.30" x2="196.00" y2="418.30" stroke="#e46060" stroke-width="0.6" stroke-dasharray="1.7,1.6"/>
<text x="47.0" y="373.1" font-size="4.4" fill="#5050a8" textLength="33.6" lengthAdjust="spacingAndGlyphs">Higher in Screening</text>
<text x="146.2" y="373.1" font-size="4.4" fill="#dc5050" textLength="21.5" lengthAdjust="spacingAndGlyphs">Higher in PD</text>
<line x1="68.30" y1="353.20" x2="79.30" y2="342.80" stroke="#8c8c8c" stroke-width="0.6" />
<line x1="94.10" y1="381.60" x2="112.70" y2="394.20" stroke="#8c8c8c" stroke-width="0.6" />
<line x1="124.00" y1="367.00" x2="134.20" y2="379.70" stroke="#8c8c8c" stroke-width="0.6" />
<line x1="132.00" y1="395.60" x2="122.70" y2="407.50" stroke="#8c8c8c" stroke-width="0.6" />
<line x1="93.10" y1="422.00" x2="104.30" y2="428.60" stroke="#8c8c8c" stroke-width="0.6" />
<line x1="123.60" y1="422.00" x2="113.00" y2="425.00" stroke="#8c8c8c" stroke-width="0.6" />
<line x1="164.20" y1="424.00" x2="120.50" y2="452.00" stroke="#8c8c8c" stroke-width="0.6" />
<line x1="100.90" y1="450.30" x2="106.00" y2="453.30" stroke="#8c8c8c" stroke-width="0.6" />
<line x1="124.70" y1="450.30" x2="113.00" y2="447.00" stroke="#8c8c8c" stroke-width="0.6" />
<rect x="111.25" y="421.50" width="2.30" height="2.00" rx="1.15" fill="#b8c0ca" opacity="0.85"/>
<rect x="111.25" y="431.00" width="2.30" height="5.50" rx="1.15" fill="#b8c0ca" opacity="0.85"/>
<rect x="111.25" y="439.50" width="2.30" height="19.50" rx="1.15" fill="#b8c0ca" opacity="0.85"/>
<circle cx="103.70" cy="413.60" r="1.30" fill="#7a7ab2" opacity="0.8"/>
<circle cx="104.30" cy="428.60" r="1.30" fill="#7a7ab2" opacity="0.8"/>
<circle cx="106.00" cy="432.60" r="1.30" fill="#7a7ab2" opacity="0.8"/>
<circle cx="103.70" cy="436.00" r="1.30" fill="#7a7ab2" opacity="0.8"/>
<circle cx="109.50" cy="444.70" r="1.30" fill="#7a7ab2" opacity="0.8"/>
<circle cx="108.50" cy="446.40" r="1.30" fill="#7a7ab2" opacity="0.8"/>
<circle cx="104.30" cy="451.00" r="1.30" fill="#7a7ab2" opacity="0.8"/>
<circle cx="106.00" cy="453.30" r="1.30" fill="#7a7ab2" opacity="0.8"/>
<circle cx="105.50" cy="457.90" r="1.30" fill="#7a7ab2" opacity="0.8"/>
<circle cx="103.30" cy="379.10" r="1.30" fill="#7a7ab2" opacity="0.8"/>
<circle cx="107.50" cy="448.50" r="1.30" fill="#7a7ab2" opacity="0.8"/>
<circle cx="107.00" cy="440.00" r="1.30" fill="#7a7ab2" opacity="0.8"/>
<circle cx="110.00" cy="451.00" r="1.30" fill="#7a7ab2" opacity="0.8"/>
<circle cx="115.80" cy="444.70" r="1.15" fill="#e4a08c" opacity="0.9"/>
<circle cx="119.80" cy="441.80" r="1.15" fill="#e4a08c" opacity="0.9"/>
<circle cx="118.10" cy="453.30" r="1.15" fill="#e4a08c" opacity="0.9"/>
<circle cx="118.70" cy="456.70" r="1.15" fill="#e4a08c" opacity="0.9"/>
<circle cx="116.50" cy="449.00" r="1.15" fill="#e4a08c" opacity="0.9"/>
<circle cx="122.70" cy="438.30" r="0.80" fill="#8a5a5a" opacity="0.8"/>
<circle cx="127.30" cy="413.00" r="0.80" fill="#8a5a5a" opacity="0.8"/>
<circle cx="122.50" cy="407.70" r="0.80" fill="#8a5a5a" opacity="0.8"/>
<circle cx="112.70" cy="394.20" r="0.80" fill="#8a5a5a" opacity="0.8"/>
<circle cx="79.30" cy="342.80" r="1.50" fill="#1e1e5a" />
<circle cx="71.60" cy="381.80" r="1.50" fill="#1e1e5a" />
<circle cx="85.50" cy="393.10" r="1.50" fill="#1e1e5a" />
<circle cx="86.60" cy="409.30" r="1.50" fill="#1e1e5a" />
<circle cx="88.90" cy="412.30" r="1.50" fill="#1e1e5a" />
<circle cx="95.60" cy="438.80" r="1.50" fill="#1e1e5a" />
<circle cx="64.50" cy="450.60" r="1.50" fill="#1e1e5a" />
<circle cx="106.00" cy="458.30" r="1.00" fill="#1e1e5a" />
<circle cx="134.20" cy="379.70" r="1.40" fill="#d8202a" />
<circle cx="157.70" cy="387.80" r="1.40" fill="#d8202a" />
<circle cx="179.20" cy="437.20" r="1.40" fill="#d8202a" />
<circle cx="162.00" cy="458.00" r="1.40" fill="#d8202a" />
<circle cx="126.70" cy="435.80" r="1.40" fill="#d8202a" />
<circle cx="126.20" cy="442.90" r="1.40" fill="#d8202a" />
<text x="61.80" y="386.60" font-size="4.2" fill="#333" stroke="#333" stroke-width="0.1" text-anchor="start" textLength="12.50" lengthAdjust="spacingAndGlyphs">CD8B</text>
<text x="85.00" y="390.90" font-size="4.2" fill="#333" stroke="#333" stroke-width="0.1" text-anchor="start" textLength="8.60" lengthAdjust="spacingAndGlyphs">Bcl 2</text>
<text x="78.80" y="408.30" font-size="4.2" fill="#333" stroke="#333" stroke-width="0.1" text-anchor="start" textLength="8.50" lengthAdjust="spacingAndGlyphs">CD28</text>
<text x="86.00" y="417.20" font-size="4.2" fill="#333" stroke="#333" stroke-width="0.1" text-anchor="start" textLength="12.20" lengthAdjust="spacingAndGlyphs">BCL6L</text>
<text x="153.80" y="385.90" font-size="4.2" fill="#333" stroke="#333" stroke-width="0.1" text-anchor="start" textLength="12.40" lengthAdjust="spacingAndGlyphs">CX40L</text>
<text x="108.40" y="412.00" font-size="4.5" fill="#333" stroke="#333" stroke-width="0.1" text-anchor="start" textLength="47.50" lengthAdjust="spacingAndGlyphs">Phospho-JNK (T183/Y185)</text>
<rect x="51.67" y="350.57" width="16.35" height="4.95" fill="#1f7a33" stroke="#0c3a16" stroke-width="0.55"/>
<text x="59.85" y="354.48" font-size="3.96" fill="#c8eec8" text-anchor="middle" textLength="14.50" lengthAdjust="spacingAndGlyphs" opacity="0.6">ICOS1</text>
<rect x="117.18" y="362.67" width="13.35" height="4.05" fill="#1f7a33" stroke="#0c3a16" stroke-width="0.55"/>
<text x="123.85" y="365.89" font-size="3.31" fill="#c8eec8" text-anchor="middle" textLength="11.50" lengthAdjust="spacingAndGlyphs" opacity="0.6">OX40</text>
<rect x="79.78" y="379.27" width="13.95" height="4.95" fill="#b85566" stroke="#5e2230" stroke-width="0.55"/>
<text x="86.75" y="383.18" font-size="3.96" fill="#fae6ea" text-anchor="middle" textLength="12.10" lengthAdjust="spacingAndGlyphs" opacity="0.55">CTLA4</text>
<rect x="115.68" y="390.97" width="68.95" height="4.55" fill="#a3d8ea" stroke="#3a6a7a" stroke-width="0.55"/>
<text x="150.15" y="394.57" font-size="3.67" fill="#2e5a6a" text-anchor="middle" textLength="67.10" lengthAdjust="spacingAndGlyphs" opacity="0.7">Phospho-p90 RSK (T359/S363)</text>
<rect x="78.88" y="419.47" width="14.45" height="4.65" fill="#b85566" stroke="#5e2230" stroke-width="0.55"/>
<text x="86.10" y="423.15" font-size="3.74" fill="#fae6ea" text-anchor="middle" textLength="12.60" lengthAdjust="spacingAndGlyphs" opacity="0.55">LAG3</text>
<rect x="123.58" y="419.47" width="16.35" height="4.65" fill="#b85566" stroke="#5e2230" stroke-width="0.55"/>
<text x="131.75" y="423.15" font-size="3.74" fill="#fae6ea" text-anchor="middle" textLength="14.50" lengthAdjust="spacingAndGlyphs" opacity="0.55">TIGIT</text>
<rect x="164.47" y="419.47" width="11.95" height="4.65" fill="#b85566" stroke="#5e2230" stroke-width="0.55"/>
<text x="170.45" y="423.15" font-size="3.74" fill="#fae6ea" text-anchor="middle" textLength="10.10" lengthAdjust="spacingAndGlyphs" opacity="0.55">PD1</text>
<rect x="86.58" y="447.77" width="14.05" height="4.65" fill="#b85566" stroke="#5e2230" stroke-width="0.55"/>
<text x="93.60" y="451.45" font-size="3.74" fill="#fae6ea" text-anchor="middle" textLength="12.20" lengthAdjust="spacingAndGlyphs" opacity="0.55">TIM3</text>
<rect x="124.48" y="447.77" width="16.45" height="4.65" fill="#b85566" stroke="#5e2230" stroke-width="0.55"/>
<text x="132.70" y="451.45" font-size="3.74" fill="#fae6ea" text-anchor="middle" textLength="14.60" lengthAdjust="spacingAndGlyphs" opacity="0.55">VISTA</text>
<text x="199.20" y="374.10" font-size="5.9" fill="#222" stroke="#222" stroke-width="0.1" text-anchor="start" textLength="45.30" lengthAdjust="spacingAndGlyphs">Log2 fold change</text>
<rect x="199.60" y="377.60" width="4.6" height="21.20" fill="url(#cb)"/>
<text x="207.20" y="380.10" font-size="5.0" fill="#222" stroke="#222" stroke-width="0.1" text-anchor="start" textLength="7.60" lengthAdjust="spacingAndGlyphs">1.0</text>
<text x="207.20" y="385.10" font-size="5.0" fill="#222" stroke="#222" stroke-width="0.1" text-anchor="start" textLength="7.60" lengthAdjust="spacingAndGlyphs">0.5</text>
<text x="207.20" y="390.00" font-size="5.0" fill="#222" stroke="#222" stroke-width="0.1" text-anchor="start" textLength="7.60" lengthAdjust="spacingAndGlyphs">0.0</text>
<text x="207.20" y="395.60" font-size="5.0" fill="#222" stroke="#222" stroke-width="0.1" text-anchor="start" textLength="10.50" lengthAdjust="spacingAndGlyphs">−0.5</text>
<text x="207.20" y="400.60" font-size="5.0" fill="#222" stroke="#222" stroke-width="0.1" text-anchor="start" textLength="10.50" lengthAdjust="spacingAndGlyphs">−1.0</text>
<text x="199.20" y="413.50" font-size="5.9" fill="#222" stroke="#222" stroke-width="0.1" text-anchor="start" textLength="42.40" lengthAdjust="spacingAndGlyphs">Marker Category</text>
<rect x="199.70" y="416.80" width="5.20" height="5.20" fill="#2e9a48" stroke="#3a3a3a" stroke-width="0.5" rx="0.6"/>
<rect x="199.70" y="422.40" width="5.20" height="5.20" fill="#e77e90" stroke="#3a3a3a" stroke-width="0.5" rx="0.6"/>
<rect x="199.70" y="428.00" width="5.20" height="5.20" fill="#8fd4ea" stroke="#3a3a3a" stroke-width="0.5" rx="0.6"/>
<text x="207.40" y="421.50" font-size="5.9" fill="#222" stroke="#222" stroke-width="0.1" text-anchor="start" textLength="46.60" lengthAdjust="spacingAndGlyphs">Activation/Effector</text>
<text x="207.40" y="426.70" font-size="5.9" fill="#222" stroke="#222" stroke-width="0.1" text-anchor="start" textLength="30.50" lengthAdjust="spacingAndGlyphs">Coinhibitory</text>
<text x="207.40" y="431.90" font-size="5.9" fill="#222" stroke="#222" stroke-width="0.1" text-anchor="start" textLength="30.30" lengthAdjust="spacingAndGlyphs">Proliferation</text>
<text x="266.30" y="319.60" font-size="10.2" text-anchor="start" fill="#111" stroke="#111" stroke-width="0.12" font-weight="bold">H</text>
<text x="263.50" y="331.80" font-size="7.7" fill="#222" stroke="#222" stroke-width="0.06" textLength="214.00" lengthAdjust="spacingAndGlyphs">Differential Expression in CD3 Cells: Screening vs Responding</text>
<line x1="286.60" y1="336.50" x2="286.60" y2="464.00" stroke="#2a2a2a" stroke-width="1.15" />
<line x1="283.20" y1="458.60" x2="286.60" y2="458.60" stroke="#2a2a2a" stroke-width="0.9" />
<text x="280.20" y="460.76" font-size="6.0" text-anchor="end" fill="#2a2a2a" stroke="#2a2a2a" stroke-width="0.12">0</text>
<line x1="283.20" y1="418.30" x2="286.60" y2="418.30" stroke="#2a2a2a" stroke-width="0.9" />
<text x="280.20" y="420.46" font-size="6.0" text-anchor="end" fill="#2a2a2a" stroke="#2a2a2a" stroke-width="0.12">2</text>
<line x1="283.20" y1="378.30" x2="286.60" y2="378.30" stroke="#2a2a2a" stroke-width="0.9" />
<text x="280.20" y="380.46" font-size="6.0" text-anchor="end" fill="#2a2a2a" stroke="#2a2a2a" stroke-width="0.12">4</text>
<line x1="283.20" y1="338.10" x2="286.60" y2="338.10" stroke="#2a2a2a" stroke-width="0.9" />
<text x="280.20" y="340.26" font-size="6.0" text-anchor="end" fill="#2a2a2a" stroke="#2a2a2a" stroke-width="0.12">6</text>
<line x1="286.60" y1="463.80" x2="451.60" y2="463.80" stroke="#222" stroke-width="1.1" />
<line x1="294.20" y1="463.80" x2="294.20" y2="466.20" stroke="#333" stroke-width="0.8" />
<text x="294.20" y="475.30" font-size="6.3" text-anchor="middle" fill="#222" stroke="#222" stroke-width="0.12">−4</text>
<line x1="332.30" y1="463.80" x2="332.30" y2="466.20" stroke="#333" stroke-width="0.8" />
<text x="332.30" y="475.30" font-size="6.3" text-anchor="middle" fill="#222" stroke="#222" stroke-width="0.12">−2</text>
<line x1="370.40" y1="463.80" x2="370.40" y2="466.20" stroke="#333" stroke-width="0.8" />
<text x="370.40" y="475.30" font-size="6.3" text-anchor="middle" fill="#222" stroke="#222" stroke-width="0.12">0</text>
<line x1="408.90" y1="463.80" x2="408.90" y2="466.20" stroke="#333" stroke-width="0.8" />
<text x="408.90" y="475.30" font-size="6.3" text-anchor="middle" fill="#222" stroke="#222" stroke-width="0.12">2</text>
<line x1="447.00" y1="463.80" x2="447.00" y2="466.20" stroke="#333" stroke-width="0.8" />
<text x="447.00" y="475.30" font-size="6.3" text-anchor="middle" fill="#222" stroke="#222" stroke-width="0.12">4</text>
<text x="370.60" y="486.50" font-size="7.4" text-anchor="middle" fill="#222" stroke="#222" stroke-width="0.28" textLength="42.00" lengthAdjust="spacingAndGlyphs">Log2 fold change</text>
<text x="273.42" y="399.00" font-size="7.0" fill="#1a1a1a" stroke="#1a1a1a" stroke-width="0.12" text-anchor="middle" textLength="60.00" lengthAdjust="spacingAndGlyphs" transform="rotate(-90 273.42 399.00)">−Log10(Adjusted <tspan font-style="italic">P</tspan> value)</text>
<line x1="361.20" y1="336.20" x2="361.20" y2="463.50" stroke="#444450" stroke-width="0.85" stroke-dasharray="1.2,2.2"/>
<line x1="380.40" y1="336.20" x2="380.40" y2="463.50" stroke="#444450" stroke-width="0.85" stroke-dasharray="1.2,2.2"/>
<line x1="287.00" y1="432.50" x2="454.00" y2="432.50" stroke="#e46060" stroke-width="0.6" stroke-dasharray="1.7,1.6"/>
<text x="304.3" y="373.1" font-size="4.4" fill="#5050a8" textLength="34.7" lengthAdjust="spacingAndGlyphs">Higher in Screening</text>
<text x="403.5" y="373.0" font-size="4.4" fill="#dc5050" textLength="42.7" lengthAdjust="spacingAndGlyphs">Higher During Response</text>
<line x1="389.70" y1="342.60" x2="389.70" y2="352.30" stroke="#e8a0a8" stroke-width="0.7" />
<line x1="400.00" y1="382.00" x2="392.00" y2="392.70" stroke="#8c8c8c" stroke-width="0.6" />
<line x1="371.90" y1="391.50" x2="381.60" y2="397.40" stroke="#8c8c8c" stroke-width="0.6" />
<line x1="373.60" y1="413.00" x2="382.30" y2="414.70" stroke="#8c8c8c" stroke-width="0.6" />
<line x1="398.00" y1="410.40" x2="384.40" y2="426.80" stroke="#8c8c8c" stroke-width="0.6" />
<line x1="358.20" y1="435.00" x2="380.20" y2="428.30" stroke="#8c8c8c" stroke-width="0.6" />
<line x1="415.00" y1="450.30" x2="437.30" y2="429.30" stroke="#8c8c8c" stroke-width="0.6" />
<rect x="369.65" y="420.50" width="2.30" height="2.00" rx="1.15" fill="#b8c0ca" opacity="0.85"/>
<rect x="369.65" y="436.20" width="2.30" height="9.80" rx="1.15" fill="#b8c0ca" opacity="0.85"/>
<rect x="369.65" y="448.00" width="2.30" height="4.00" rx="1.15" fill="#b8c0ca" opacity="0.85"/>
<circle cx="375.50" cy="437.00" r="1.25" fill="#c8aeb4" opacity="0.85"/>
<circle cx="377.80" cy="438.00" r="1.25" fill="#c8aeb4" opacity="0.85"/>
<circle cx="378.00" cy="445.50" r="1.25" fill="#c8aeb4" opacity="0.85"/>
<circle cx="372.00" cy="457.50" r="1.25" fill="#c8aeb4" opacity="0.85"/>
<circle cx="375.50" cy="457.00" r="1.25" fill="#c8aeb4" opacity="0.85"/>
<circle cx="368.50" cy="458.00" r="1.25" fill="#c8aeb4" opacity="0.85"/>
<circle cx="366.50" cy="456.50" r="1.25" fill="#c8aeb4" opacity="0.85"/>
<circle cx="360.30" cy="417.90" r="1.30" fill="#7a7ab2" opacity="0.8"/>
<circle cx="364.00" cy="442.50" r="1.30" fill="#7a7ab2" opacity="0.8"/>
<circle cx="361.90" cy="447.70" r="1.30" fill="#7a7ab2" opacity="0.8"/>
<circle cx="365.00" cy="457.70" r="1.30" fill="#7a7ab2" opacity="0.8"/>
<circle cx="363.50" cy="452.00" r="1.30" fill="#7a7ab2" opacity="0.8"/>
<circle cx="382.30" cy="414.70" r="1.15" fill="#e4a08c" opacity="0.9"/>
<circle cx="379.20" cy="432.50" r="1.15" fill="#e4a08c" opacity="0.9"/>
<circle cx="374.40" cy="437.80" r="1.15" fill="#e4a08c" opacity="0.9"/>
<circle cx="378.60" cy="438.30" r="1.15" fill="#e4a08c" opacity="0.9"/>
<circle cx="378.60" cy="445.60" r="1.15" fill="#e4a08c" opacity="0.9"/>
<circle cx="381.60" cy="397.40" r="1.15" fill="#e4a08c" opacity="0.9"/>
<circle cx="376.00" cy="452.00" r="1.15" fill="#e4a08c" opacity="0.9"/>
<circle cx="379.00" cy="457.00" r="1.15" fill="#e4a08c" opacity="0.9"/>
<circle cx="352.80" cy="397.20" r="1.50" fill="#1e1e5a" />
<circle cx="353.50" cy="429.30" r="1.50" fill="#1e1e5a" />
<circle cx="306.20" cy="438.00" r="1.50" fill="#1e1e5a" />
<circle cx="320.50" cy="447.00" r="1.50" fill="#1e1e5a" />
<circle cx="389.70" cy="342.60" r="1.50" fill="#a81828" />
<circle cx="392.00" cy="392.70" r="1.45" fill="#d8202a" />
<circle cx="386.50" cy="420.50" r="1.45" fill="#d8202a" />
<circle cx="391.20" cy="422.60" r="1.45" fill="#d8202a" />
<circle cx="384.40" cy="426.80" r="1.45" fill="#d8202a" />
<circle cx="391.20" cy="432.00" r="1.45" fill="#d8202a" />
<circle cx="391.20" cy="434.60" r="1.45" fill="#d8202a" />
<circle cx="391.20" cy="442.00" r="1.45" fill="#d8202a" />
<circle cx="418.10" cy="430.00" r="1.45" fill="#d8202a" />
<circle cx="437.30" cy="429.30" r="1.45" fill="#d8202a" />
<text x="351.50" y="395.60" font-size="4.2" fill="#333" stroke="#333" stroke-width="0.1" text-anchor="start" textLength="9.50" lengthAdjust="spacingAndGlyphs">CD8</text>
<text x="349.50" y="428.00" font-size="4.2" fill="#333" stroke="#333" stroke-width="0.1" text-anchor="start" textLength="8.50" lengthAdjust="spacingAndGlyphs">CD8</text>
<rect x="385.4" y="422.6" width="7.4" height="3.4" fill="#fff" opacity="0.7"/>
<text x="385.40" y="425.60" font-size="4.0" fill="#333" stroke="#333" stroke-width="0.1" text-anchor="start" textLength="7.40" lengthAdjust="spacingAndGlyphs">CD69</text>
<rect x="382.57" y="352.57" width="14.45" height="3.75" fill="#1f7a33" stroke="#0c3a16" stroke-width="0.55"/>
<text x="389.80" y="355.56" font-size="3.10" fill="#c8eec8" text-anchor="middle" textLength="12.60" lengthAdjust="spacingAndGlyphs" opacity="0.6">CD137</text>
<rect x="400.27" y="379.67" width="13.35" height="3.75" fill="#1f7a33" stroke="#0c3a16" stroke-width="0.55"/>
<text x="406.95" y="382.66" font-size="3.10" fill="#c8eec8" text-anchor="middle" textLength="11.50" lengthAdjust="spacingAndGlyphs" opacity="0.6">ICOS</text>
<rect x="356.47" y="388.27" width="15.15" height="3.75" fill="#1f7a33" stroke="#0c3a16" stroke-width="0.55"/>
<text x="364.05" y="391.26" font-size="3.10" fill="#c8eec8" text-anchor="middle" textLength="13.30" lengthAdjust="spacingAndGlyphs" opacity="0.6">CD40LG</text>
<rect x="391.77" y="405.47" width="13.75" height="4.65" fill="#b85566" stroke="#5e2230" stroke-width="0.55"/>
<text x="398.65" y="409.15" font-size="3.74" fill="#fae6ea" text-anchor="middle" textLength="11.90" lengthAdjust="spacingAndGlyphs" opacity="0.55">TIM3</text>
<rect x="304.57" y="410.97" width="68.95" height="4.05" fill="#a3d8ea" stroke="#3a6a7a" stroke-width="0.55"/>
<text x="339.05" y="414.19" font-size="3.31" fill="#2e5a6a" text-anchor="middle" textLength="67.10" lengthAdjust="spacingAndGlyphs" opacity="0.7">Phospho-p90 RSK (T359/S363)</text>
<rect x="342.38" y="433.27" width="15.55" height="4.25" fill="#1f7a33" stroke="#0c3a16" stroke-width="0.55"/>
<text x="350.15" y="436.64" font-size="3.46" fill="#c8eec8" text-anchor="middle" textLength="13.70" lengthAdjust="spacingAndGlyphs" opacity="0.6">GZMB</text>
<rect x="393.88" y="428.38" width="14.95" height="4.25" fill="#1f7a33" stroke="#0c3a16" stroke-width="0.55"/>
<text x="401.35" y="431.74" font-size="3.46" fill="#c8eec8" text-anchor="middle" textLength="13.10" lengthAdjust="spacingAndGlyphs" opacity="0.6">CD27</text>
<rect x="348.07" y="450.67" width="97.45" height="4.35" fill="#1f7a33" stroke="#0c3a16" stroke-width="0.55"/>
<text x="396.80" y="454.12" font-size="3.53" fill="#c8eec8" text-anchor="middle" textLength="95.60" lengthAdjust="spacingAndGlyphs" opacity="0.6">Phospho-ZAP70 (Y319) Phospho-SYK (Y352)</text>
<text x="456.90" y="367.70" font-size="5.9" fill="#222" stroke="#222" stroke-width="0.1" text-anchor="start" textLength="45.30" lengthAdjust="spacingAndGlyphs">Log2 fold change</text>
<rect x="457.30" y="371.00" width="4.6" height="21.70" fill="url(#cb)"/>
<text x="464.90" y="373.60" font-size="5.0" fill="#222" stroke="#222" stroke-width="0.1" text-anchor="start" textLength="7.60" lengthAdjust="spacingAndGlyphs">1.0</text>
<text x="464.90" y="378.60" font-size="5.0" fill="#222" stroke="#222" stroke-width="0.1" text-anchor="start" textLength="7.60" lengthAdjust="spacingAndGlyphs">0.5</text>
<text x="464.90" y="383.80" font-size="5.0" fill="#222" stroke="#222" stroke-width="0.1" text-anchor="start" textLength="7.60" lengthAdjust="spacingAndGlyphs">0.0</text>
<text x="464.90" y="388.90" font-size="5.0" fill="#222" stroke="#222" stroke-width="0.1" text-anchor="start" textLength="10.50" lengthAdjust="spacingAndGlyphs">−0.5</text>
<text x="464.90" y="394.10" font-size="5.0" fill="#222" stroke="#222" stroke-width="0.1" text-anchor="start" textLength="10.50" lengthAdjust="spacingAndGlyphs">−1.0</text>
<text x="456.90" y="406.90" font-size="5.9" fill="#222" stroke="#222" stroke-width="0.1" text-anchor="start" textLength="42.40" lengthAdjust="spacingAndGlyphs">Marker Category</text>
<rect x="457.40" y="410.20" width="5.20" height="5.10" fill="#2e9a48" stroke="#3a3a3a" stroke-width="0.5" rx="0.6"/>
<rect x="457.40" y="415.70" width="5.20" height="5.10" fill="#e77e90" stroke="#3a3a3a" stroke-width="0.5" rx="0.6"/>
<rect x="457.40" y="421.20" width="5.20" height="5.10" fill="#8fd4ea" stroke="#3a3a3a" stroke-width="0.5" rx="0.6"/>
<text x="465.10" y="414.60" font-size="5.9" fill="#222" stroke="#222" stroke-width="0.1" text-anchor="start" textLength="46.60" lengthAdjust="spacingAndGlyphs">Activation/Effector</text>
<text x="465.10" y="420.00" font-size="5.9" fill="#222" stroke="#222" stroke-width="0.1" text-anchor="start" textLength="30.50" lengthAdjust="spacingAndGlyphs">Coinhibitory</text>
<text x="465.10" y="425.30" font-size="5.9" fill="#222" stroke="#222" stroke-width="0.1" text-anchor="start" textLength="30.30" lengthAdjust="spacingAndGlyphs">Proliferation</text>
<rect x="0" y="0" width="520" height="1.1" fill="#111"/>
<rect x="0" y="0" width="1.1" height="496" fill="#111"/>
<rect x="518.8" y="0" width="1.2" height="496" fill="#111"/>
<rect x="0" y="494.4" width="520" height="1.6" fill="#111"/>
</svg></div></body></html>
